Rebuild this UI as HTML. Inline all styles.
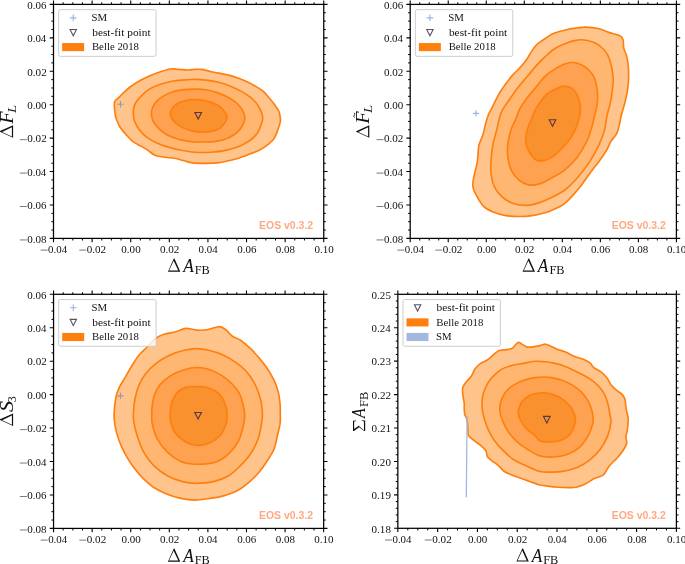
<!DOCTYPE html><html><head><meta charset="utf-8"><style>html,body{margin:0;padding:0;background:#fff;overflow:hidden;}svg{display:block;will-change:transform;}text{font-family:"Liberation Serif",serif;}</style></head><body>
<svg width="685" height="564" viewBox="0 0 685 564">
<rect width="685" height="564" fill="#fff"/>
<path d="M170.20,69.00 C173.20,68.60 175.50,69.23 178.50,69.40 C181.50,69.57 185.45,70.00 188.20,70.00 C190.95,70.00 192.72,69.50 195.00,69.40 C197.28,69.30 199.13,69.00 201.90,69.40 C204.67,69.80 208.13,71.05 211.60,71.80 C215.07,72.55 219.00,73.10 222.70,73.90 C226.40,74.70 230.10,75.45 233.80,76.60 C237.50,77.75 241.43,79.28 244.90,80.80 C248.37,82.32 251.58,83.97 254.60,85.70 C257.62,87.43 260.45,89.02 263.00,91.20 C265.55,93.38 267.83,96.37 269.90,98.80 C271.97,101.23 273.90,103.72 275.40,105.80 C276.90,107.88 278.08,109.27 278.90,111.30 C279.72,113.33 280.07,116.23 280.30,118.00 C280.53,119.77 280.65,120.08 280.30,121.90 C279.95,123.72 279.23,126.12 278.20,128.90 C277.17,131.68 275.72,136.07 274.10,138.60 C272.48,141.13 270.82,142.25 268.50,144.10 C266.18,145.95 263.20,148.08 260.20,149.70 C257.20,151.32 253.97,152.42 250.50,153.80 C247.03,155.18 243.10,156.83 239.40,158.00 C235.70,159.17 232.00,159.98 228.30,160.80 C224.60,161.62 220.90,162.48 217.20,162.90 C213.50,163.32 210.23,163.30 206.10,163.30 C201.97,163.30 196.07,163.32 192.40,162.90 C188.73,162.48 187.12,161.57 184.10,160.80 C181.08,160.03 177.55,158.88 174.30,158.30 C171.05,157.72 167.83,157.82 164.60,157.30 C161.37,156.78 157.67,156.35 154.90,155.20 C152.13,154.05 150.30,151.90 148.00,150.40 C145.70,148.90 143.65,147.70 141.10,146.20 C138.55,144.70 135.25,143.37 132.70,141.40 C130.15,139.43 127.87,136.72 125.80,134.40 C123.73,132.08 121.80,129.82 120.30,127.50 C118.80,125.18 117.62,122.50 116.80,120.50 C115.98,118.50 115.80,117.72 115.40,115.50 C115.00,113.28 114.52,109.52 114.40,107.20 C114.28,104.88 113.95,103.23 114.70,101.60 C115.45,99.97 117.28,99.02 118.90,97.40 C120.52,95.78 122.55,93.63 124.40,91.90 C126.25,90.17 127.45,88.85 130.00,87.00 C132.55,85.15 136.47,82.63 139.70,80.80 C142.93,78.97 145.93,77.50 149.40,76.00 C152.87,74.50 157.03,72.97 160.50,71.80 C163.97,70.63 167.20,69.40 170.20,69.00Z" fill="#ffc48c"/>
<path d="M174.30,80.80 C178.92,80.03 184.75,79.93 188.20,79.70 C191.65,79.47 192.02,79.33 195.00,79.40 C197.98,79.47 202.17,79.63 206.10,80.10 C210.03,80.57 214.43,81.15 218.60,82.20 C222.77,83.25 227.17,84.78 231.10,86.40 C235.03,88.02 238.97,90.07 242.20,91.90 C245.43,93.73 247.97,95.32 250.50,97.40 C253.03,99.48 255.55,101.85 257.40,104.40 C259.25,106.95 260.72,110.43 261.60,112.70 C262.48,114.97 262.70,116.23 262.70,118.00 C262.70,119.77 262.48,120.80 261.60,123.30 C260.72,125.80 259.25,130.22 257.40,133.00 C255.55,135.78 253.50,137.80 250.50,140.00 C247.50,142.20 243.57,144.47 239.40,146.20 C235.23,147.93 230.13,149.40 225.50,150.40 C220.87,151.40 216.68,151.90 211.60,152.20 C206.52,152.50 200.28,152.57 195.00,152.20 C189.72,151.83 184.50,150.88 179.90,150.00 C175.30,149.12 171.33,148.12 167.40,146.90 C163.47,145.68 159.77,144.32 156.30,142.70 C152.83,141.08 149.37,139.27 146.60,137.20 C143.83,135.13 141.67,132.85 139.70,130.30 C137.73,127.75 135.85,124.45 134.80,121.90 C133.75,119.35 133.63,117.00 133.40,115.00 C133.17,113.00 133.05,111.90 133.40,109.90 C133.75,107.90 134.22,105.30 135.50,103.00 C136.78,100.70 138.78,98.42 141.10,96.10 C143.42,93.78 146.17,91.07 149.40,89.10 C152.63,87.13 156.35,85.68 160.50,84.30 C164.65,82.92 169.68,81.57 174.30,80.80Z" fill="#ffb670"/>
<path d="M174.30,91.20 C178.45,90.08 184.75,89.75 188.20,89.40 C191.65,89.05 192.02,89.03 195.00,89.10 C197.98,89.17 202.40,89.22 206.10,89.80 C209.80,90.38 213.50,91.33 217.20,92.60 C220.90,93.87 225.07,95.67 228.30,97.40 C231.53,99.13 234.28,100.92 236.60,103.00 C238.92,105.08 240.83,107.57 242.20,109.90 C243.57,112.23 244.58,114.77 244.80,117.00 C245.02,119.23 244.63,120.87 243.50,123.30 C242.37,125.73 240.53,129.17 238.00,131.60 C235.47,134.03 232.00,136.27 228.30,137.90 C224.60,139.53 219.97,140.72 215.80,141.40 C211.63,142.08 206.77,141.90 203.30,142.00 C199.83,142.10 197.28,142.10 195.00,142.00 C192.72,141.90 192.35,141.85 189.60,141.40 C186.85,140.95 182.20,140.35 178.50,139.30 C174.80,138.25 170.63,136.83 167.40,135.10 C164.17,133.37 161.42,131.10 159.10,128.90 C156.78,126.70 154.77,124.13 153.50,121.90 C152.23,119.67 151.72,117.73 151.50,115.50 C151.28,113.27 151.40,110.82 152.20,108.50 C153.00,106.18 154.45,103.67 156.30,101.60 C158.15,99.53 160.30,97.83 163.30,96.10 C166.30,94.37 170.15,92.32 174.30,91.20Z" fill="#fea150"/>
<path d="M178.50,103.00 C181.03,101.78 185.45,100.48 188.20,99.90 C190.95,99.32 192.48,99.45 195.00,99.50 C197.52,99.55 200.30,99.62 203.30,100.20 C206.30,100.78 209.98,101.73 213.00,103.00 C216.02,104.27 219.32,106.07 221.40,107.80 C223.48,109.53 224.57,111.87 225.50,113.40 C226.43,114.93 227.00,115.58 227.00,117.00 C227.00,118.42 226.67,120.03 225.50,121.90 C224.33,123.77 222.32,126.62 220.00,128.20 C217.68,129.78 214.38,130.75 211.60,131.40 C208.82,132.05 206.07,132.07 203.30,132.10 C200.53,132.13 197.28,131.90 195.00,131.60 C192.72,131.30 192.12,131.22 189.60,130.30 C187.08,129.38 182.67,127.73 179.90,126.10 C177.13,124.47 174.62,122.52 173.00,120.50 C171.38,118.48 170.20,116.22 170.20,114.00 C170.20,111.78 171.62,109.03 173.00,107.20 C174.38,105.37 175.97,104.22 178.50,103.00Z" fill="#f9912e"/>
<path d="M170.20,69.00 C173.20,68.60 175.50,69.23 178.50,69.40 C181.50,69.57 185.45,70.00 188.20,70.00 C190.95,70.00 192.72,69.50 195.00,69.40 C197.28,69.30 199.13,69.00 201.90,69.40 C204.67,69.80 208.13,71.05 211.60,71.80 C215.07,72.55 219.00,73.10 222.70,73.90 C226.40,74.70 230.10,75.45 233.80,76.60 C237.50,77.75 241.43,79.28 244.90,80.80 C248.37,82.32 251.58,83.97 254.60,85.70 C257.62,87.43 260.45,89.02 263.00,91.20 C265.55,93.38 267.83,96.37 269.90,98.80 C271.97,101.23 273.90,103.72 275.40,105.80 C276.90,107.88 278.08,109.27 278.90,111.30 C279.72,113.33 280.07,116.23 280.30,118.00 C280.53,119.77 280.65,120.08 280.30,121.90 C279.95,123.72 279.23,126.12 278.20,128.90 C277.17,131.68 275.72,136.07 274.10,138.60 C272.48,141.13 270.82,142.25 268.50,144.10 C266.18,145.95 263.20,148.08 260.20,149.70 C257.20,151.32 253.97,152.42 250.50,153.80 C247.03,155.18 243.10,156.83 239.40,158.00 C235.70,159.17 232.00,159.98 228.30,160.80 C224.60,161.62 220.90,162.48 217.20,162.90 C213.50,163.32 210.23,163.30 206.10,163.30 C201.97,163.30 196.07,163.32 192.40,162.90 C188.73,162.48 187.12,161.57 184.10,160.80 C181.08,160.03 177.55,158.88 174.30,158.30 C171.05,157.72 167.83,157.82 164.60,157.30 C161.37,156.78 157.67,156.35 154.90,155.20 C152.13,154.05 150.30,151.90 148.00,150.40 C145.70,148.90 143.65,147.70 141.10,146.20 C138.55,144.70 135.25,143.37 132.70,141.40 C130.15,139.43 127.87,136.72 125.80,134.40 C123.73,132.08 121.80,129.82 120.30,127.50 C118.80,125.18 117.62,122.50 116.80,120.50 C115.98,118.50 115.80,117.72 115.40,115.50 C115.00,113.28 114.52,109.52 114.40,107.20 C114.28,104.88 113.95,103.23 114.70,101.60 C115.45,99.97 117.28,99.02 118.90,97.40 C120.52,95.78 122.55,93.63 124.40,91.90 C126.25,90.17 127.45,88.85 130.00,87.00 C132.55,85.15 136.47,82.63 139.70,80.80 C142.93,78.97 145.93,77.50 149.40,76.00 C152.87,74.50 157.03,72.97 160.50,71.80 C163.97,70.63 167.20,69.40 170.20,69.00Z" fill="none" stroke="#ff7f0e" stroke-width="1.65" stroke-linejoin="round"/>
<path d="M174.30,80.80 C178.92,80.03 184.75,79.93 188.20,79.70 C191.65,79.47 192.02,79.33 195.00,79.40 C197.98,79.47 202.17,79.63 206.10,80.10 C210.03,80.57 214.43,81.15 218.60,82.20 C222.77,83.25 227.17,84.78 231.10,86.40 C235.03,88.02 238.97,90.07 242.20,91.90 C245.43,93.73 247.97,95.32 250.50,97.40 C253.03,99.48 255.55,101.85 257.40,104.40 C259.25,106.95 260.72,110.43 261.60,112.70 C262.48,114.97 262.70,116.23 262.70,118.00 C262.70,119.77 262.48,120.80 261.60,123.30 C260.72,125.80 259.25,130.22 257.40,133.00 C255.55,135.78 253.50,137.80 250.50,140.00 C247.50,142.20 243.57,144.47 239.40,146.20 C235.23,147.93 230.13,149.40 225.50,150.40 C220.87,151.40 216.68,151.90 211.60,152.20 C206.52,152.50 200.28,152.57 195.00,152.20 C189.72,151.83 184.50,150.88 179.90,150.00 C175.30,149.12 171.33,148.12 167.40,146.90 C163.47,145.68 159.77,144.32 156.30,142.70 C152.83,141.08 149.37,139.27 146.60,137.20 C143.83,135.13 141.67,132.85 139.70,130.30 C137.73,127.75 135.85,124.45 134.80,121.90 C133.75,119.35 133.63,117.00 133.40,115.00 C133.17,113.00 133.05,111.90 133.40,109.90 C133.75,107.90 134.22,105.30 135.50,103.00 C136.78,100.70 138.78,98.42 141.10,96.10 C143.42,93.78 146.17,91.07 149.40,89.10 C152.63,87.13 156.35,85.68 160.50,84.30 C164.65,82.92 169.68,81.57 174.30,80.80Z" fill="none" stroke="#ff7f0e" stroke-width="1.65" stroke-linejoin="round"/>
<path d="M174.30,91.20 C178.45,90.08 184.75,89.75 188.20,89.40 C191.65,89.05 192.02,89.03 195.00,89.10 C197.98,89.17 202.40,89.22 206.10,89.80 C209.80,90.38 213.50,91.33 217.20,92.60 C220.90,93.87 225.07,95.67 228.30,97.40 C231.53,99.13 234.28,100.92 236.60,103.00 C238.92,105.08 240.83,107.57 242.20,109.90 C243.57,112.23 244.58,114.77 244.80,117.00 C245.02,119.23 244.63,120.87 243.50,123.30 C242.37,125.73 240.53,129.17 238.00,131.60 C235.47,134.03 232.00,136.27 228.30,137.90 C224.60,139.53 219.97,140.72 215.80,141.40 C211.63,142.08 206.77,141.90 203.30,142.00 C199.83,142.10 197.28,142.10 195.00,142.00 C192.72,141.90 192.35,141.85 189.60,141.40 C186.85,140.95 182.20,140.35 178.50,139.30 C174.80,138.25 170.63,136.83 167.40,135.10 C164.17,133.37 161.42,131.10 159.10,128.90 C156.78,126.70 154.77,124.13 153.50,121.90 C152.23,119.67 151.72,117.73 151.50,115.50 C151.28,113.27 151.40,110.82 152.20,108.50 C153.00,106.18 154.45,103.67 156.30,101.60 C158.15,99.53 160.30,97.83 163.30,96.10 C166.30,94.37 170.15,92.32 174.30,91.20Z" fill="none" stroke="#ff7f0e" stroke-width="1.65" stroke-linejoin="round"/>
<path d="M178.50,103.00 C181.03,101.78 185.45,100.48 188.20,99.90 C190.95,99.32 192.48,99.45 195.00,99.50 C197.52,99.55 200.30,99.62 203.30,100.20 C206.30,100.78 209.98,101.73 213.00,103.00 C216.02,104.27 219.32,106.07 221.40,107.80 C223.48,109.53 224.57,111.87 225.50,113.40 C226.43,114.93 227.00,115.58 227.00,117.00 C227.00,118.42 226.67,120.03 225.50,121.90 C224.33,123.77 222.32,126.62 220.00,128.20 C217.68,129.78 214.38,130.75 211.60,131.40 C208.82,132.05 206.07,132.07 203.30,132.10 C200.53,132.13 197.28,131.90 195.00,131.60 C192.72,131.30 192.12,131.22 189.60,130.30 C187.08,129.38 182.67,127.73 179.90,126.10 C177.13,124.47 174.62,122.52 173.00,120.50 C171.38,118.48 170.20,116.22 170.20,114.00 C170.20,111.78 171.62,109.03 173.00,107.20 C174.38,105.37 175.97,104.22 178.50,103.00Z" fill="none" stroke="#ff7f0e" stroke-width="1.65" stroke-linejoin="round"/>
<path d="M117.40,104.20h6.2M120.50,101.00v6.4" stroke="#4a72c4" stroke-opacity="0.55" stroke-width="1.15"/>
<path d="M194.90,112.46H201.50L198.20,118.96Z" fill="none" stroke="#2e2444" stroke-opacity="0.80" stroke-width="1.15" stroke-linejoin="miter"/>
<text x="259.07" y="228.80" font-size="10.70" textLength="54.00" lengthAdjust="spacingAndGlyphs" fill="#ffa984" font-weight="bold" style="font-family:'Liberation Sans',sans-serif">EOS v0.3.2</text>
<rect x="58.65" y="9.65" width="97.40" height="46.70" rx="1.7" fill="#fff" fill-opacity="0.8" stroke="#c8c8c8" stroke-opacity="0.9" stroke-width="1"/>
<path d="M69.95,17.85h6.6M73.25,14.55v6.6" stroke="#4a72c4" stroke-opacity="0.55" stroke-width="1.1"/>
<text x="91.55" y="21.15" font-size="10.80" textLength="15.63" lengthAdjust="spacingAndGlyphs" fill="#111">SM</text>
<path d="M70.05,29.45H76.45L73.25,35.75Z" fill="none" stroke="#2e2444" stroke-opacity="0.80" stroke-width="1.1"/>
<text x="92.25" y="35.75" font-size="10.80" textLength="58.29" lengthAdjust="spacingAndGlyphs" fill="#111">best-fit point</text>
<rect x="62.15" y="43.05" width="22.0" height="8.1" fill="#ff7f0e"/>
<text x="91.93" y="50.35" font-size="10.80" textLength="47.06" lengthAdjust="spacingAndGlyphs" fill="#111">Belle 2018</text>
<rect x="53.50" y="4.40" width="270.25" height="234.00" fill="none" stroke="#000" stroke-width="1.25"/>
<path d="M53.50,238.40v3.80M53.50,4.40v-3.80" stroke="#000" stroke-width="1.1"/><path d="M63.15,238.40v2.10M63.15,4.40v-2.10" stroke="#000" stroke-width="1.0"/><path d="M72.80,238.40v2.10M72.80,4.40v-2.10" stroke="#000" stroke-width="1.0"/><path d="M82.46,238.40v2.10M82.46,4.40v-2.10" stroke="#000" stroke-width="1.0"/><path d="M92.11,238.40v3.80M92.11,4.40v-3.80" stroke="#000" stroke-width="1.1"/><path d="M101.76,238.40v2.10M101.76,4.40v-2.10" stroke="#000" stroke-width="1.0"/><path d="M111.41,238.40v2.10M111.41,4.40v-2.10" stroke="#000" stroke-width="1.0"/><path d="M121.06,238.40v2.10M121.06,4.40v-2.10" stroke="#000" stroke-width="1.0"/><path d="M130.71,238.40v3.80M130.71,4.40v-3.80" stroke="#000" stroke-width="1.1"/><path d="M140.37,238.40v2.10M140.37,4.40v-2.10" stroke="#000" stroke-width="1.0"/><path d="M150.02,238.40v2.10M150.02,4.40v-2.10" stroke="#000" stroke-width="1.0"/><path d="M159.67,238.40v2.10M159.67,4.40v-2.10" stroke="#000" stroke-width="1.0"/><path d="M169.32,238.40v3.80M169.32,4.40v-3.80" stroke="#000" stroke-width="1.1"/><path d="M178.97,238.40v2.10M178.97,4.40v-2.10" stroke="#000" stroke-width="1.0"/><path d="M188.62,238.40v2.10M188.62,4.40v-2.10" stroke="#000" stroke-width="1.0"/><path d="M198.28,238.40v2.10M198.28,4.40v-2.10" stroke="#000" stroke-width="1.0"/><path d="M207.93,238.40v3.80M207.93,4.40v-3.80" stroke="#000" stroke-width="1.1"/><path d="M217.58,238.40v2.10M217.58,4.40v-2.10" stroke="#000" stroke-width="1.0"/><path d="M227.23,238.40v2.10M227.23,4.40v-2.10" stroke="#000" stroke-width="1.0"/><path d="M236.88,238.40v2.10M236.88,4.40v-2.10" stroke="#000" stroke-width="1.0"/><path d="M246.54,238.40v3.80M246.54,4.40v-3.80" stroke="#000" stroke-width="1.1"/><path d="M256.19,238.40v2.10M256.19,4.40v-2.10" stroke="#000" stroke-width="1.0"/><path d="M265.84,238.40v2.10M265.84,4.40v-2.10" stroke="#000" stroke-width="1.0"/><path d="M275.49,238.40v2.10M275.49,4.40v-2.10" stroke="#000" stroke-width="1.0"/><path d="M285.14,238.40v3.80M285.14,4.40v-3.80" stroke="#000" stroke-width="1.1"/><path d="M294.79,238.40v2.10M294.79,4.40v-2.10" stroke="#000" stroke-width="1.0"/><path d="M304.45,238.40v2.10M304.45,4.40v-2.10" stroke="#000" stroke-width="1.0"/><path d="M314.10,238.40v2.10M314.10,4.40v-2.10" stroke="#000" stroke-width="1.0"/><path d="M323.75,238.40v3.80M323.75,4.40v-3.80" stroke="#000" stroke-width="1.1"/><path d="M53.50,238.40h-3.80M323.75,238.40h3.80" stroke="#000" stroke-width="1.1"/><path d="M53.50,230.04h-2.10M323.75,230.04h2.10" stroke="#000" stroke-width="1.0"/><path d="M53.50,221.69h-2.10M323.75,221.69h2.10" stroke="#000" stroke-width="1.0"/><path d="M53.50,213.33h-2.10M323.75,213.33h2.10" stroke="#000" stroke-width="1.0"/><path d="M53.50,204.97h-3.80M323.75,204.97h3.80" stroke="#000" stroke-width="1.1"/><path d="M53.50,196.61h-2.10M323.75,196.61h2.10" stroke="#000" stroke-width="1.0"/><path d="M53.50,188.26h-2.10M323.75,188.26h2.10" stroke="#000" stroke-width="1.0"/><path d="M53.50,179.90h-2.10M323.75,179.90h2.10" stroke="#000" stroke-width="1.0"/><path d="M53.50,171.54h-3.80M323.75,171.54h3.80" stroke="#000" stroke-width="1.1"/><path d="M53.50,163.19h-2.10M323.75,163.19h2.10" stroke="#000" stroke-width="1.0"/><path d="M53.50,154.83h-2.10M323.75,154.83h2.10" stroke="#000" stroke-width="1.0"/><path d="M53.50,146.47h-2.10M323.75,146.47h2.10" stroke="#000" stroke-width="1.0"/><path d="M53.50,138.11h-3.80M323.75,138.11h3.80" stroke="#000" stroke-width="1.1"/><path d="M53.50,129.76h-2.10M323.75,129.76h2.10" stroke="#000" stroke-width="1.0"/><path d="M53.50,121.40h-2.10M323.75,121.40h2.10" stroke="#000" stroke-width="1.0"/><path d="M53.50,113.04h-2.10M323.75,113.04h2.10" stroke="#000" stroke-width="1.0"/><path d="M53.50,104.69h-3.80M323.75,104.69h3.80" stroke="#000" stroke-width="1.1"/><path d="M53.50,96.33h-2.10M323.75,96.33h2.10" stroke="#000" stroke-width="1.0"/><path d="M53.50,87.97h-2.10M323.75,87.97h2.10" stroke="#000" stroke-width="1.0"/><path d="M53.50,79.61h-2.10M323.75,79.61h2.10" stroke="#000" stroke-width="1.0"/><path d="M53.50,71.26h-3.80M323.75,71.26h3.80" stroke="#000" stroke-width="1.1"/><path d="M53.50,62.90h-2.10M323.75,62.90h2.10" stroke="#000" stroke-width="1.0"/><path d="M53.50,54.54h-2.10M323.75,54.54h2.10" stroke="#000" stroke-width="1.0"/><path d="M53.50,46.19h-2.10M323.75,46.19h2.10" stroke="#000" stroke-width="1.0"/><path d="M53.50,37.83h-3.80M323.75,37.83h3.80" stroke="#000" stroke-width="1.1"/><path d="M53.50,29.47h-2.10M323.75,29.47h2.10" stroke="#000" stroke-width="1.0"/><path d="M53.50,21.11h-2.10M323.75,21.11h2.10" stroke="#000" stroke-width="1.0"/><path d="M53.50,12.76h-2.10M323.75,12.76h2.10" stroke="#000" stroke-width="1.0"/><path d="M53.50,4.40h-3.80M323.75,4.40h3.80" stroke="#000" stroke-width="1.1"/>
<path d="M40.65,250.10h7.00" stroke="#333" stroke-width="0.65"/><text x="48.12" y="252.85" font-size="11.40" textLength="19.00" lengthAdjust="spacingAndGlyphs" fill="#111">0.04</text>
<path d="M79.26,250.10h7.00" stroke="#333" stroke-width="0.65"/><text x="86.71" y="252.85" font-size="11.40" textLength="19.46" lengthAdjust="spacingAndGlyphs" fill="#111">0.02</text>
<text x="121.37" y="252.85" font-size="11.40" textLength="19.28" lengthAdjust="spacingAndGlyphs" fill="#111">0.00</text>
<text x="159.98" y="252.85" font-size="11.40" textLength="19.46" lengthAdjust="spacingAndGlyphs" fill="#111">0.02</text>
<text x="198.59" y="252.85" font-size="11.40" textLength="19.00" lengthAdjust="spacingAndGlyphs" fill="#111">0.04</text>
<text x="237.20" y="252.85" font-size="11.40" textLength="19.17" lengthAdjust="spacingAndGlyphs" fill="#111">0.06</text>
<text x="275.80" y="252.85" font-size="11.40" textLength="19.28" lengthAdjust="spacingAndGlyphs" fill="#111">0.08</text>
<text x="314.41" y="252.85" font-size="11.40" textLength="19.28" lengthAdjust="spacingAndGlyphs" fill="#111">0.10</text>
<path d="M19.80,239.95h7.00" stroke="#333" stroke-width="0.65"/><text x="27.26" y="242.70" font-size="11.40" textLength="19.28" lengthAdjust="spacingAndGlyphs" fill="#111">0.08</text>
<path d="M19.80,206.52h7.00" stroke="#333" stroke-width="0.65"/><text x="27.26" y="209.27" font-size="11.40" textLength="19.17" lengthAdjust="spacingAndGlyphs" fill="#111">0.06</text>
<path d="M19.80,173.09h7.00" stroke="#333" stroke-width="0.65"/><text x="27.27" y="175.84" font-size="11.40" textLength="19.00" lengthAdjust="spacingAndGlyphs" fill="#111">0.04</text>
<path d="M19.80,139.66h7.00" stroke="#333" stroke-width="0.65"/><text x="27.26" y="142.41" font-size="11.40" textLength="19.46" lengthAdjust="spacingAndGlyphs" fill="#111">0.02</text>
<text x="27.26" y="108.99" font-size="11.40" textLength="19.28" lengthAdjust="spacingAndGlyphs" fill="#111">0.00</text>
<text x="27.26" y="75.56" font-size="11.40" textLength="19.46" lengthAdjust="spacingAndGlyphs" fill="#111">0.02</text>
<text x="27.27" y="42.13" font-size="11.40" textLength="19.00" lengthAdjust="spacingAndGlyphs" fill="#111">0.04</text>
<text x="27.26" y="8.70" font-size="11.40" textLength="19.17" lengthAdjust="spacingAndGlyphs" fill="#111">0.06</text>
<g transform="translate(167.93,271.70)"><path d="M5.90,-13.20L6.50,-13.30L12.40,0.00L0.00,0.00Z M5.76,-11.05L1.17,-1.20L10.35,-1.20Z" fill="#111" fill-rule="evenodd"/><text x="15.25" y="0.00" font-size="19.50" font-style="italic" textLength="10.58" lengthAdjust="spacingAndGlyphs" fill="#111">A</text><text x="26.83" y="2.20" font-size="11.90" textLength="15.06" lengthAdjust="spacingAndGlyphs" fill="#111">FB</text></g>
<g transform="translate(13.10,137.65) rotate(-90)"><path d="M5.90,-13.10L6.50,-13.20L12.40,0.00L0.00,0.00Z M5.76,-10.97L1.17,-1.20L10.34,-1.20Z" fill="#111" fill-rule="evenodd"/><text x="13.90" y="0.00" font-size="19.30" font-style="italic" textLength="12.31" lengthAdjust="spacingAndGlyphs" fill="#111">F</text><text x="24.65" y="2.90" font-size="12.40" font-style="italic" textLength="8.13" lengthAdjust="spacingAndGlyphs" fill="#111">L</text></g>
<path d="M553.90,33.30 C557.20,31.97 562.47,30.58 566.30,29.70 C570.13,28.82 573.65,28.43 576.90,28.00 C580.15,27.57 582.25,27.02 585.80,27.10 C589.35,27.18 594.37,27.62 598.20,28.50 C602.03,29.38 605.27,31.22 608.80,32.40 C612.33,33.58 617.03,34.42 619.40,35.60 C621.77,36.78 622.27,37.38 623.00,39.50 C623.73,41.62 623.22,45.65 623.80,48.30 C624.38,50.95 625.75,52.43 626.50,55.40 C627.25,58.37 627.95,62.25 628.30,66.10 C628.65,69.95 628.75,74.37 628.60,78.50 C628.45,82.63 628.05,86.77 627.40,90.90 C626.75,95.03 625.73,99.17 624.70,103.30 C623.67,107.43 622.07,112.20 621.20,115.70 C620.33,119.20 620.25,121.32 619.50,124.30 C618.75,127.28 618.10,130.80 616.70,133.60 C615.30,136.40 612.80,138.30 611.10,141.10 C609.40,143.90 608.52,146.98 606.50,150.40 C604.48,153.82 601.48,158.18 599.00,161.60 C596.52,165.02 594.38,167.18 591.60,170.90 C588.82,174.62 585.40,179.87 582.30,183.90 C579.20,187.93 576.12,191.68 573.00,195.10 C569.88,198.52 567.02,201.92 563.60,204.40 C560.18,206.88 555.58,208.60 552.50,210.00 C549.42,211.40 548.50,211.87 545.10,212.80 C541.70,213.73 536.45,214.98 532.10,215.60 C527.75,216.22 523.35,216.50 519.00,216.50 C514.65,216.50 510.33,216.37 506.00,215.60 C501.67,214.83 496.73,213.45 493.00,211.90 C489.27,210.35 486.40,209.10 483.60,206.30 C480.80,203.50 478.00,198.52 476.20,195.10 C474.40,191.68 473.12,189.22 472.80,185.80 C472.48,182.38 473.58,178.33 474.30,174.60 C475.02,170.87 476.48,166.82 477.10,163.40 C477.72,159.98 477.68,157.20 478.00,154.10 C478.32,151.00 478.22,147.90 479.00,144.80 C479.78,141.70 481.62,138.92 482.70,135.50 C483.78,132.08 484.57,127.72 485.50,124.30 C486.43,120.88 487.13,117.92 488.30,115.00 C489.47,112.08 490.77,110.23 492.50,106.80 C494.23,103.37 496.48,98.23 498.70,94.40 C500.92,90.57 503.45,87.05 505.80,83.80 C508.15,80.55 510.45,77.57 512.80,74.90 C515.15,72.23 517.53,70.45 519.90,67.80 C522.27,65.15 524.93,61.95 527.00,59.00 C529.07,56.05 530.53,52.62 532.30,50.10 C534.07,47.58 535.23,45.97 537.60,43.90 C539.97,41.83 543.78,39.47 546.50,37.70 C549.22,35.93 550.60,34.63 553.90,33.30Z" fill="#ffc48c"/>
<path d="M553.90,49.20 C557.20,46.98 561.27,45.28 564.50,43.90 C567.73,42.52 570.35,41.58 573.30,40.90 C576.25,40.22 578.95,39.60 582.20,39.80 C585.45,40.00 589.55,40.82 592.80,42.10 C596.05,43.38 599.18,45.28 601.70,47.50 C604.22,49.72 606.28,52.30 607.90,55.40 C609.52,58.50 610.52,62.25 611.40,66.10 C612.28,69.95 613.05,74.37 613.20,78.50 C613.35,82.63 612.80,86.77 612.30,90.90 C611.80,95.03 611.08,99.17 610.20,103.30 C609.32,107.43 607.93,111.27 607.00,115.70 C606.07,120.13 605.93,125.05 604.60,129.90 C603.27,134.75 601.48,139.52 599.00,144.80 C596.52,150.08 593.12,156.32 589.70,161.60 C586.28,166.88 582.53,171.85 578.50,176.50 C574.47,181.15 569.83,186.08 565.50,189.50 C561.17,192.92 556.83,194.82 552.50,197.00 C548.17,199.18 543.83,201.20 539.50,202.60 C535.17,204.00 530.85,205.25 526.50,205.40 C522.15,205.55 517.43,204.90 513.40,203.50 C509.37,202.10 505.40,199.63 502.30,197.00 C499.20,194.37 496.67,191.43 494.80,187.70 C492.93,183.97 491.72,179.27 491.10,174.60 C490.48,169.93 490.80,164.67 491.10,159.70 C491.40,154.73 491.97,149.77 492.90,144.80 C493.83,139.83 495.60,134.37 496.70,129.90 C497.80,125.43 498.58,121.25 499.50,118.00 C500.42,114.75 500.57,113.45 502.20,110.40 C503.83,107.35 506.63,103.55 509.30,99.70 C511.97,95.85 515.25,91.13 518.20,87.30 C521.15,83.47 524.05,80.23 527.00,76.70 C529.95,73.17 532.95,69.35 535.90,66.10 C538.85,62.85 541.70,60.02 544.70,57.20 C547.70,54.38 550.60,51.42 553.90,49.20Z" fill="#ffb670"/>
<path d="M553.90,69.60 C557.20,67.47 561.27,65.08 564.50,63.90 C567.73,62.72 570.35,62.28 573.30,62.50 C576.25,62.72 579.53,63.87 582.20,65.20 C584.87,66.53 587.23,68.28 589.30,70.50 C591.37,72.72 593.27,75.10 594.60,78.50 C595.93,81.90 596.85,86.77 597.30,90.90 C597.75,95.03 597.75,99.17 597.30,103.30 C596.85,107.43 595.55,111.58 594.60,115.70 C593.65,119.82 593.03,123.45 591.60,128.00 C590.17,132.55 588.48,138.02 586.00,143.00 C583.52,147.98 580.43,153.25 576.70,157.90 C572.97,162.55 567.95,167.48 563.60,170.90 C559.25,174.32 554.62,176.23 550.60,178.40 C546.58,180.57 543.20,182.82 539.50,183.90 C535.80,184.98 531.82,185.52 528.40,184.90 C524.98,184.28 521.80,182.53 519.00,180.20 C516.20,177.87 513.45,174.62 511.60,170.90 C509.75,167.18 508.52,162.55 507.90,157.90 C507.28,153.25 507.28,147.98 507.90,143.00 C508.52,138.02 510.33,131.85 511.60,128.00 C512.87,124.15 514.12,123.13 515.50,119.90 C516.88,116.67 517.98,112.25 519.90,108.60 C521.82,104.95 524.33,101.55 527.00,98.00 C529.67,94.45 532.95,90.85 535.90,87.30 C538.85,83.75 541.70,79.65 544.70,76.70 C547.70,73.75 550.60,71.73 553.90,69.60Z" fill="#fea150"/>
<path d="M553.90,90.00 C556.60,88.67 560.05,86.85 562.70,86.40 C565.35,85.95 567.58,86.27 569.80,87.30 C572.02,88.33 574.38,90.23 576.00,92.60 C577.62,94.97 578.77,98.25 579.50,101.50 C580.23,104.75 580.57,109.02 580.40,112.10 C580.23,115.18 579.12,117.65 578.50,120.00 C577.88,122.35 577.93,123.30 576.70,126.20 C575.47,129.10 573.58,133.68 571.10,137.40 C568.62,141.12 564.90,145.25 561.80,148.50 C558.70,151.75 555.58,154.88 552.50,156.90 C549.42,158.92 546.08,160.13 543.30,160.60 C540.52,161.07 538.28,161.40 535.80,159.70 C533.32,158.00 530.10,153.82 528.40,150.40 C526.70,146.98 525.60,143.23 525.60,139.20 C525.60,135.17 527.43,129.42 528.40,126.20 C529.37,122.98 530.45,122.25 531.40,119.90 C532.35,117.55 532.77,114.87 534.10,112.10 C535.43,109.33 537.33,106.25 539.40,103.30 C541.47,100.35 544.08,96.62 546.50,94.40 C548.92,92.18 551.20,91.33 553.90,90.00Z" fill="#f9912e"/>
<path d="M553.90,33.30 C557.20,31.97 562.47,30.58 566.30,29.70 C570.13,28.82 573.65,28.43 576.90,28.00 C580.15,27.57 582.25,27.02 585.80,27.10 C589.35,27.18 594.37,27.62 598.20,28.50 C602.03,29.38 605.27,31.22 608.80,32.40 C612.33,33.58 617.03,34.42 619.40,35.60 C621.77,36.78 622.27,37.38 623.00,39.50 C623.73,41.62 623.22,45.65 623.80,48.30 C624.38,50.95 625.75,52.43 626.50,55.40 C627.25,58.37 627.95,62.25 628.30,66.10 C628.65,69.95 628.75,74.37 628.60,78.50 C628.45,82.63 628.05,86.77 627.40,90.90 C626.75,95.03 625.73,99.17 624.70,103.30 C623.67,107.43 622.07,112.20 621.20,115.70 C620.33,119.20 620.25,121.32 619.50,124.30 C618.75,127.28 618.10,130.80 616.70,133.60 C615.30,136.40 612.80,138.30 611.10,141.10 C609.40,143.90 608.52,146.98 606.50,150.40 C604.48,153.82 601.48,158.18 599.00,161.60 C596.52,165.02 594.38,167.18 591.60,170.90 C588.82,174.62 585.40,179.87 582.30,183.90 C579.20,187.93 576.12,191.68 573.00,195.10 C569.88,198.52 567.02,201.92 563.60,204.40 C560.18,206.88 555.58,208.60 552.50,210.00 C549.42,211.40 548.50,211.87 545.10,212.80 C541.70,213.73 536.45,214.98 532.10,215.60 C527.75,216.22 523.35,216.50 519.00,216.50 C514.65,216.50 510.33,216.37 506.00,215.60 C501.67,214.83 496.73,213.45 493.00,211.90 C489.27,210.35 486.40,209.10 483.60,206.30 C480.80,203.50 478.00,198.52 476.20,195.10 C474.40,191.68 473.12,189.22 472.80,185.80 C472.48,182.38 473.58,178.33 474.30,174.60 C475.02,170.87 476.48,166.82 477.10,163.40 C477.72,159.98 477.68,157.20 478.00,154.10 C478.32,151.00 478.22,147.90 479.00,144.80 C479.78,141.70 481.62,138.92 482.70,135.50 C483.78,132.08 484.57,127.72 485.50,124.30 C486.43,120.88 487.13,117.92 488.30,115.00 C489.47,112.08 490.77,110.23 492.50,106.80 C494.23,103.37 496.48,98.23 498.70,94.40 C500.92,90.57 503.45,87.05 505.80,83.80 C508.15,80.55 510.45,77.57 512.80,74.90 C515.15,72.23 517.53,70.45 519.90,67.80 C522.27,65.15 524.93,61.95 527.00,59.00 C529.07,56.05 530.53,52.62 532.30,50.10 C534.07,47.58 535.23,45.97 537.60,43.90 C539.97,41.83 543.78,39.47 546.50,37.70 C549.22,35.93 550.60,34.63 553.90,33.30Z" fill="none" stroke="#ff7f0e" stroke-width="1.65" stroke-linejoin="round"/>
<path d="M553.90,49.20 C557.20,46.98 561.27,45.28 564.50,43.90 C567.73,42.52 570.35,41.58 573.30,40.90 C576.25,40.22 578.95,39.60 582.20,39.80 C585.45,40.00 589.55,40.82 592.80,42.10 C596.05,43.38 599.18,45.28 601.70,47.50 C604.22,49.72 606.28,52.30 607.90,55.40 C609.52,58.50 610.52,62.25 611.40,66.10 C612.28,69.95 613.05,74.37 613.20,78.50 C613.35,82.63 612.80,86.77 612.30,90.90 C611.80,95.03 611.08,99.17 610.20,103.30 C609.32,107.43 607.93,111.27 607.00,115.70 C606.07,120.13 605.93,125.05 604.60,129.90 C603.27,134.75 601.48,139.52 599.00,144.80 C596.52,150.08 593.12,156.32 589.70,161.60 C586.28,166.88 582.53,171.85 578.50,176.50 C574.47,181.15 569.83,186.08 565.50,189.50 C561.17,192.92 556.83,194.82 552.50,197.00 C548.17,199.18 543.83,201.20 539.50,202.60 C535.17,204.00 530.85,205.25 526.50,205.40 C522.15,205.55 517.43,204.90 513.40,203.50 C509.37,202.10 505.40,199.63 502.30,197.00 C499.20,194.37 496.67,191.43 494.80,187.70 C492.93,183.97 491.72,179.27 491.10,174.60 C490.48,169.93 490.80,164.67 491.10,159.70 C491.40,154.73 491.97,149.77 492.90,144.80 C493.83,139.83 495.60,134.37 496.70,129.90 C497.80,125.43 498.58,121.25 499.50,118.00 C500.42,114.75 500.57,113.45 502.20,110.40 C503.83,107.35 506.63,103.55 509.30,99.70 C511.97,95.85 515.25,91.13 518.20,87.30 C521.15,83.47 524.05,80.23 527.00,76.70 C529.95,73.17 532.95,69.35 535.90,66.10 C538.85,62.85 541.70,60.02 544.70,57.20 C547.70,54.38 550.60,51.42 553.90,49.20Z" fill="none" stroke="#ff7f0e" stroke-width="1.65" stroke-linejoin="round"/>
<path d="M553.90,69.60 C557.20,67.47 561.27,65.08 564.50,63.90 C567.73,62.72 570.35,62.28 573.30,62.50 C576.25,62.72 579.53,63.87 582.20,65.20 C584.87,66.53 587.23,68.28 589.30,70.50 C591.37,72.72 593.27,75.10 594.60,78.50 C595.93,81.90 596.85,86.77 597.30,90.90 C597.75,95.03 597.75,99.17 597.30,103.30 C596.85,107.43 595.55,111.58 594.60,115.70 C593.65,119.82 593.03,123.45 591.60,128.00 C590.17,132.55 588.48,138.02 586.00,143.00 C583.52,147.98 580.43,153.25 576.70,157.90 C572.97,162.55 567.95,167.48 563.60,170.90 C559.25,174.32 554.62,176.23 550.60,178.40 C546.58,180.57 543.20,182.82 539.50,183.90 C535.80,184.98 531.82,185.52 528.40,184.90 C524.98,184.28 521.80,182.53 519.00,180.20 C516.20,177.87 513.45,174.62 511.60,170.90 C509.75,167.18 508.52,162.55 507.90,157.90 C507.28,153.25 507.28,147.98 507.90,143.00 C508.52,138.02 510.33,131.85 511.60,128.00 C512.87,124.15 514.12,123.13 515.50,119.90 C516.88,116.67 517.98,112.25 519.90,108.60 C521.82,104.95 524.33,101.55 527.00,98.00 C529.67,94.45 532.95,90.85 535.90,87.30 C538.85,83.75 541.70,79.65 544.70,76.70 C547.70,73.75 550.60,71.73 553.90,69.60Z" fill="none" stroke="#ff7f0e" stroke-width="1.65" stroke-linejoin="round"/>
<path d="M553.90,90.00 C556.60,88.67 560.05,86.85 562.70,86.40 C565.35,85.95 567.58,86.27 569.80,87.30 C572.02,88.33 574.38,90.23 576.00,92.60 C577.62,94.97 578.77,98.25 579.50,101.50 C580.23,104.75 580.57,109.02 580.40,112.10 C580.23,115.18 579.12,117.65 578.50,120.00 C577.88,122.35 577.93,123.30 576.70,126.20 C575.47,129.10 573.58,133.68 571.10,137.40 C568.62,141.12 564.90,145.25 561.80,148.50 C558.70,151.75 555.58,154.88 552.50,156.90 C549.42,158.92 546.08,160.13 543.30,160.60 C540.52,161.07 538.28,161.40 535.80,159.70 C533.32,158.00 530.10,153.82 528.40,150.40 C526.70,146.98 525.60,143.23 525.60,139.20 C525.60,135.17 527.43,129.42 528.40,126.20 C529.37,122.98 530.45,122.25 531.40,119.90 C532.35,117.55 532.77,114.87 534.10,112.10 C535.43,109.33 537.33,106.25 539.40,103.30 C541.47,100.35 544.08,96.62 546.50,94.40 C548.92,92.18 551.20,91.33 553.90,90.00Z" fill="none" stroke="#ff7f0e" stroke-width="1.65" stroke-linejoin="round"/>
<path d="M472.90,113.40h6.2M476.00,110.20v6.4" stroke="#4a72c4" stroke-opacity="0.55" stroke-width="1.15"/>
<path d="M549.20,119.70H555.80L552.50,126.20Z" fill="none" stroke="#2e2444" stroke-opacity="0.80" stroke-width="1.15" stroke-linejoin="miter"/>
<text x="611.72" y="228.80" font-size="10.70" textLength="54.00" lengthAdjust="spacingAndGlyphs" fill="#ffa984" font-weight="bold" style="font-family:'Liberation Sans',sans-serif">EOS v0.3.2</text>
<rect x="415.35" y="9.65" width="97.40" height="46.70" rx="1.7" fill="#fff" fill-opacity="0.8" stroke="#c8c8c8" stroke-opacity="0.9" stroke-width="1"/>
<path d="M426.65,17.85h6.6M429.95,14.55v6.6" stroke="#4a72c4" stroke-opacity="0.55" stroke-width="1.1"/>
<text x="448.25" y="21.15" font-size="10.80" textLength="15.63" lengthAdjust="spacingAndGlyphs" fill="#111">SM</text>
<path d="M426.75,29.45H433.15L429.95,35.75Z" fill="none" stroke="#2e2444" stroke-opacity="0.80" stroke-width="1.1"/>
<text x="448.95" y="35.75" font-size="10.80" textLength="58.29" lengthAdjust="spacingAndGlyphs" fill="#111">best-fit point</text>
<rect x="418.85" y="43.05" width="22.0" height="8.1" fill="#ff7f0e"/>
<text x="448.63" y="50.35" font-size="10.80" textLength="47.06" lengthAdjust="spacingAndGlyphs" fill="#111">Belle 2018</text>
<rect x="410.20" y="4.40" width="266.20" height="234.00" fill="none" stroke="#000" stroke-width="1.25"/>
<path d="M410.20,238.40v3.80M410.20,4.40v-3.80" stroke="#000" stroke-width="1.1"/><path d="M419.71,238.40v2.10M419.71,4.40v-2.10" stroke="#000" stroke-width="1.0"/><path d="M429.21,238.40v2.10M429.21,4.40v-2.10" stroke="#000" stroke-width="1.0"/><path d="M438.72,238.40v2.10M438.72,4.40v-2.10" stroke="#000" stroke-width="1.0"/><path d="M448.23,238.40v3.80M448.23,4.40v-3.80" stroke="#000" stroke-width="1.1"/><path d="M457.74,238.40v2.10M457.74,4.40v-2.10" stroke="#000" stroke-width="1.0"/><path d="M467.24,238.40v2.10M467.24,4.40v-2.10" stroke="#000" stroke-width="1.0"/><path d="M476.75,238.40v2.10M476.75,4.40v-2.10" stroke="#000" stroke-width="1.0"/><path d="M486.26,238.40v3.80M486.26,4.40v-3.80" stroke="#000" stroke-width="1.1"/><path d="M495.76,238.40v2.10M495.76,4.40v-2.10" stroke="#000" stroke-width="1.0"/><path d="M505.27,238.40v2.10M505.27,4.40v-2.10" stroke="#000" stroke-width="1.0"/><path d="M514.78,238.40v2.10M514.78,4.40v-2.10" stroke="#000" stroke-width="1.0"/><path d="M524.29,238.40v3.80M524.29,4.40v-3.80" stroke="#000" stroke-width="1.1"/><path d="M533.79,238.40v2.10M533.79,4.40v-2.10" stroke="#000" stroke-width="1.0"/><path d="M543.30,238.40v2.10M543.30,4.40v-2.10" stroke="#000" stroke-width="1.0"/><path d="M552.81,238.40v2.10M552.81,4.40v-2.10" stroke="#000" stroke-width="1.0"/><path d="M562.31,238.40v3.80M562.31,4.40v-3.80" stroke="#000" stroke-width="1.1"/><path d="M571.82,238.40v2.10M571.82,4.40v-2.10" stroke="#000" stroke-width="1.0"/><path d="M581.33,238.40v2.10M581.33,4.40v-2.10" stroke="#000" stroke-width="1.0"/><path d="M590.84,238.40v2.10M590.84,4.40v-2.10" stroke="#000" stroke-width="1.0"/><path d="M600.34,238.40v3.80M600.34,4.40v-3.80" stroke="#000" stroke-width="1.1"/><path d="M609.85,238.40v2.10M609.85,4.40v-2.10" stroke="#000" stroke-width="1.0"/><path d="M619.36,238.40v2.10M619.36,4.40v-2.10" stroke="#000" stroke-width="1.0"/><path d="M628.86,238.40v2.10M628.86,4.40v-2.10" stroke="#000" stroke-width="1.0"/><path d="M638.37,238.40v3.80M638.37,4.40v-3.80" stroke="#000" stroke-width="1.1"/><path d="M647.88,238.40v2.10M647.88,4.40v-2.10" stroke="#000" stroke-width="1.0"/><path d="M657.39,238.40v2.10M657.39,4.40v-2.10" stroke="#000" stroke-width="1.0"/><path d="M666.89,238.40v2.10M666.89,4.40v-2.10" stroke="#000" stroke-width="1.0"/><path d="M676.40,238.40v3.80M676.40,4.40v-3.80" stroke="#000" stroke-width="1.1"/><path d="M410.20,238.40h-3.80M676.40,238.40h3.80" stroke="#000" stroke-width="1.1"/><path d="M410.20,230.04h-2.10M676.40,230.04h2.10" stroke="#000" stroke-width="1.0"/><path d="M410.20,221.69h-2.10M676.40,221.69h2.10" stroke="#000" stroke-width="1.0"/><path d="M410.20,213.33h-2.10M676.40,213.33h2.10" stroke="#000" stroke-width="1.0"/><path d="M410.20,204.97h-3.80M676.40,204.97h3.80" stroke="#000" stroke-width="1.1"/><path d="M410.20,196.61h-2.10M676.40,196.61h2.10" stroke="#000" stroke-width="1.0"/><path d="M410.20,188.26h-2.10M676.40,188.26h2.10" stroke="#000" stroke-width="1.0"/><path d="M410.20,179.90h-2.10M676.40,179.90h2.10" stroke="#000" stroke-width="1.0"/><path d="M410.20,171.54h-3.80M676.40,171.54h3.80" stroke="#000" stroke-width="1.1"/><path d="M410.20,163.19h-2.10M676.40,163.19h2.10" stroke="#000" stroke-width="1.0"/><path d="M410.20,154.83h-2.10M676.40,154.83h2.10" stroke="#000" stroke-width="1.0"/><path d="M410.20,146.47h-2.10M676.40,146.47h2.10" stroke="#000" stroke-width="1.0"/><path d="M410.20,138.11h-3.80M676.40,138.11h3.80" stroke="#000" stroke-width="1.1"/><path d="M410.20,129.76h-2.10M676.40,129.76h2.10" stroke="#000" stroke-width="1.0"/><path d="M410.20,121.40h-2.10M676.40,121.40h2.10" stroke="#000" stroke-width="1.0"/><path d="M410.20,113.04h-2.10M676.40,113.04h2.10" stroke="#000" stroke-width="1.0"/><path d="M410.20,104.69h-3.80M676.40,104.69h3.80" stroke="#000" stroke-width="1.1"/><path d="M410.20,96.33h-2.10M676.40,96.33h2.10" stroke="#000" stroke-width="1.0"/><path d="M410.20,87.97h-2.10M676.40,87.97h2.10" stroke="#000" stroke-width="1.0"/><path d="M410.20,79.61h-2.10M676.40,79.61h2.10" stroke="#000" stroke-width="1.0"/><path d="M410.20,71.26h-3.80M676.40,71.26h3.80" stroke="#000" stroke-width="1.1"/><path d="M410.20,62.90h-2.10M676.40,62.90h2.10" stroke="#000" stroke-width="1.0"/><path d="M410.20,54.54h-2.10M676.40,54.54h2.10" stroke="#000" stroke-width="1.0"/><path d="M410.20,46.19h-2.10M676.40,46.19h2.10" stroke="#000" stroke-width="1.0"/><path d="M410.20,37.83h-3.80M676.40,37.83h3.80" stroke="#000" stroke-width="1.1"/><path d="M410.20,29.47h-2.10M676.40,29.47h2.10" stroke="#000" stroke-width="1.0"/><path d="M410.20,21.11h-2.10M676.40,21.11h2.10" stroke="#000" stroke-width="1.0"/><path d="M410.20,12.76h-2.10M676.40,12.76h2.10" stroke="#000" stroke-width="1.0"/><path d="M410.20,4.40h-3.80M676.40,4.40h3.80" stroke="#000" stroke-width="1.1"/>
<path d="M397.35,250.10h7.00" stroke="#333" stroke-width="0.65"/><text x="404.82" y="252.85" font-size="11.40" textLength="19.00" lengthAdjust="spacingAndGlyphs" fill="#111">0.04</text>
<path d="M435.38,250.10h7.00" stroke="#333" stroke-width="0.65"/><text x="442.83" y="252.85" font-size="11.40" textLength="19.46" lengthAdjust="spacingAndGlyphs" fill="#111">0.02</text>
<text x="476.92" y="252.85" font-size="11.40" textLength="19.28" lengthAdjust="spacingAndGlyphs" fill="#111">0.00</text>
<text x="514.94" y="252.85" font-size="11.40" textLength="19.46" lengthAdjust="spacingAndGlyphs" fill="#111">0.02</text>
<text x="552.98" y="252.85" font-size="11.40" textLength="19.00" lengthAdjust="spacingAndGlyphs" fill="#111">0.04</text>
<text x="591.00" y="252.85" font-size="11.40" textLength="19.17" lengthAdjust="spacingAndGlyphs" fill="#111">0.06</text>
<text x="629.03" y="252.85" font-size="11.40" textLength="19.28" lengthAdjust="spacingAndGlyphs" fill="#111">0.08</text>
<text x="667.06" y="252.85" font-size="11.40" textLength="19.28" lengthAdjust="spacingAndGlyphs" fill="#111">0.10</text>
<path d="M376.50,239.95h7.00" stroke="#333" stroke-width="0.65"/><text x="383.96" y="242.70" font-size="11.40" textLength="19.28" lengthAdjust="spacingAndGlyphs" fill="#111">0.08</text>
<path d="M376.50,206.52h7.00" stroke="#333" stroke-width="0.65"/><text x="383.96" y="209.27" font-size="11.40" textLength="19.17" lengthAdjust="spacingAndGlyphs" fill="#111">0.06</text>
<path d="M376.50,173.09h7.00" stroke="#333" stroke-width="0.65"/><text x="383.97" y="175.84" font-size="11.40" textLength="19.00" lengthAdjust="spacingAndGlyphs" fill="#111">0.04</text>
<path d="M376.50,139.66h7.00" stroke="#333" stroke-width="0.65"/><text x="383.96" y="142.41" font-size="11.40" textLength="19.46" lengthAdjust="spacingAndGlyphs" fill="#111">0.02</text>
<text x="383.96" y="108.99" font-size="11.40" textLength="19.28" lengthAdjust="spacingAndGlyphs" fill="#111">0.00</text>
<text x="383.96" y="75.56" font-size="11.40" textLength="19.46" lengthAdjust="spacingAndGlyphs" fill="#111">0.02</text>
<text x="383.97" y="42.13" font-size="11.40" textLength="19.00" lengthAdjust="spacingAndGlyphs" fill="#111">0.04</text>
<text x="383.96" y="8.70" font-size="11.40" textLength="19.17" lengthAdjust="spacingAndGlyphs" fill="#111">0.06</text>
<g transform="translate(522.60,271.70)"><path d="M5.90,-13.20L6.50,-13.30L12.40,0.00L0.00,0.00Z M5.76,-11.05L1.17,-1.20L10.35,-1.20Z" fill="#111" fill-rule="evenodd"/><text x="15.25" y="0.00" font-size="19.50" font-style="italic" textLength="10.58" lengthAdjust="spacingAndGlyphs" fill="#111">A</text><text x="26.83" y="2.20" font-size="11.90" textLength="15.06" lengthAdjust="spacingAndGlyphs" fill="#111">FB</text></g>
<g transform="translate(369.30,137.65) rotate(-90)"><path d="M5.90,-13.10L6.50,-13.20L12.40,0.00L0.00,0.00Z M5.76,-10.97L1.17,-1.20L10.34,-1.20Z" fill="#111" fill-rule="evenodd"/><text x="13.90" y="0.00" font-size="19.30" font-style="italic" textLength="12.31" lengthAdjust="spacingAndGlyphs" fill="#111">F</text><text x="24.65" y="2.90" font-size="12.40" font-style="italic" textLength="8.13" lengthAdjust="spacingAndGlyphs" fill="#111">L</text><path d="M20.0,-14.6 c0.8,-1.1 1.6,-1.1 2.5,-0.4 c0.9,0.7 1.7,0.7 2.5,-0.4" fill="none" stroke="#111" stroke-width="0.9"/></g>
<path d="M164.00,334.30 C167.37,333.18 172.07,332.78 175.70,331.80 C179.33,330.82 182.25,328.68 185.80,328.40 C189.35,328.12 193.50,329.87 197.00,330.10 C200.50,330.33 203.20,330.37 206.80,329.80 C210.40,329.23 215.52,326.78 218.60,326.70 C221.68,326.62 223.05,327.75 225.30,329.30 C227.55,330.85 229.57,334.18 232.10,336.00 C234.63,337.82 237.42,338.10 240.50,340.20 C243.58,342.30 247.52,345.65 250.60,348.60 C253.68,351.55 256.20,354.53 259.00,357.90 C261.80,361.27 264.87,365.02 267.40,368.80 C269.93,372.58 272.37,376.67 274.20,380.60 C276.03,384.53 277.42,388.47 278.40,392.40 C279.38,396.33 279.78,400.43 280.10,404.20 C280.42,407.97 280.30,411.78 280.30,415.00 C280.30,418.22 280.57,420.12 280.10,423.50 C279.63,426.88 278.48,431.10 277.50,435.30 C276.52,439.50 275.88,444.50 274.20,448.70 C272.52,452.90 269.93,456.57 267.40,460.50 C264.87,464.43 262.08,468.65 259.00,472.30 C255.92,475.95 252.55,479.32 248.90,482.40 C245.25,485.48 241.32,488.55 237.10,490.80 C232.88,493.05 228.08,494.63 223.60,495.90 C219.12,497.17 214.97,497.70 210.20,498.40 C205.43,499.10 199.90,500.10 195.00,500.10 C190.10,500.10 185.42,499.38 180.80,498.40 C176.18,497.42 171.80,496.02 167.30,494.20 C162.80,492.38 158.00,490.30 153.80,487.50 C149.60,484.70 145.47,480.77 142.10,477.40 C138.73,474.03 136.13,470.67 133.60,467.30 C131.07,463.93 129.00,460.85 126.90,457.20 C124.80,453.55 122.68,449.33 121.00,445.40 C119.32,441.47 117.92,437.82 116.80,433.60 C115.68,429.38 114.72,424.03 114.30,420.10 C113.88,416.17 114.03,413.77 114.30,410.00 C114.57,406.23 115.07,401.27 115.90,397.50 C116.73,393.73 117.75,390.77 119.30,387.40 C120.85,384.03 123.08,380.95 125.20,377.30 C127.32,373.65 129.75,369.15 132.00,365.50 C134.25,361.85 136.18,358.48 138.70,355.40 C141.22,352.32 144.30,349.82 147.10,347.00 C149.90,344.18 152.68,340.62 155.50,338.50 C158.32,336.38 160.63,335.42 164.00,334.30Z" fill="#ffc48c"/>
<path d="M184.20,350.30 C188.87,349.17 192.95,348.60 197.00,348.60 C201.05,348.60 204.33,349.32 208.50,350.30 C212.67,351.28 217.52,352.53 222.00,354.50 C226.48,356.47 231.48,359.43 235.40,362.10 C239.32,364.77 242.40,367.13 245.50,370.50 C248.60,373.87 251.75,378.37 254.00,382.30 C256.25,386.23 257.75,390.45 259.00,394.10 C260.25,397.75 260.93,400.72 261.50,404.20 C262.07,407.68 262.40,411.78 262.40,415.00 C262.40,418.22 262.20,419.57 261.50,423.50 C260.80,427.43 260.02,433.55 258.20,438.60 C256.38,443.65 253.55,449.30 250.60,453.80 C247.65,458.30 244.15,461.95 240.50,465.60 C236.85,469.25 233.20,473.03 228.70,475.70 C224.20,478.37 218.95,480.33 213.50,481.60 C208.05,482.87 201.17,483.30 196.00,483.30 C190.83,483.30 187.28,482.87 182.50,481.60 C177.72,480.33 172.08,478.37 167.30,475.70 C162.52,473.03 157.73,469.53 153.80,465.60 C149.87,461.67 146.50,457.15 143.70,452.10 C140.90,447.05 138.68,440.63 137.00,435.30 C135.32,429.97 134.17,424.32 133.60,420.10 C133.03,415.88 133.32,413.77 133.60,410.00 C133.88,406.23 134.45,401.55 135.30,397.50 C136.15,393.45 137.02,389.63 138.70,385.70 C140.38,381.77 142.60,377.55 145.40,373.90 C148.20,370.25 151.57,366.88 155.50,363.80 C159.43,360.72 164.22,357.65 169.00,355.40 C173.78,353.15 179.53,351.43 184.20,350.30Z" fill="#ffb670"/>
<path d="M184.20,369.70 C188.58,368.35 192.95,367.58 197.00,367.50 C201.05,367.42 204.33,367.85 208.50,369.20 C212.67,370.55 218.07,373.13 222.00,375.60 C225.93,378.07 229.30,381.20 232.10,384.00 C234.90,386.80 236.98,389.03 238.80,392.40 C240.62,395.77 242.02,400.43 243.00,404.20 C243.98,407.97 244.57,411.78 244.70,415.00 C244.83,418.22 244.78,419.28 243.80,423.50 C242.82,427.72 241.32,435.25 238.80,440.30 C236.28,445.35 232.63,450.15 228.70,453.80 C224.77,457.45 220.65,460.47 215.20,462.20 C209.75,463.93 201.73,464.33 196.00,464.20 C190.27,464.07 185.58,463.42 180.80,461.40 C176.02,459.38 171.23,455.90 167.30,452.10 C163.37,448.30 159.72,443.37 157.20,438.60 C154.68,433.83 153.10,427.93 152.20,423.50 C151.30,419.07 151.80,414.93 151.80,412.00 C151.80,409.07 151.72,408.88 152.20,405.90 C152.68,402.92 153.30,397.75 154.70,394.10 C156.10,390.45 157.93,387.08 160.60,384.00 C163.27,380.92 166.77,377.98 170.70,375.60 C174.63,373.22 179.82,371.05 184.20,369.70Z" fill="#fea150"/>
<path d="M185.80,387.40 C189.07,386.42 193.78,386.57 197.00,386.50 C200.22,386.43 202.07,386.30 205.10,387.00 C208.13,387.70 212.38,388.95 215.20,390.70 C218.02,392.45 220.17,394.68 222.00,397.50 C223.83,400.32 225.37,404.68 226.20,407.60 C227.03,410.52 227.00,412.35 227.00,415.00 C227.00,417.65 227.32,420.12 226.20,423.50 C225.08,426.88 222.97,432.08 220.30,435.30 C217.63,438.52 214.25,441.12 210.20,442.80 C206.15,444.48 200.07,445.53 196.00,445.40 C191.93,445.27 189.18,443.97 185.80,442.00 C182.42,440.03 178.22,436.97 175.70,433.60 C173.18,430.23 171.58,425.57 170.70,421.80 C169.82,418.03 170.12,414.50 170.40,411.00 C170.68,407.50 171.23,403.90 172.40,400.80 C173.57,397.70 175.17,394.63 177.40,392.40 C179.63,390.17 182.53,388.38 185.80,387.40Z" fill="#f9912e"/>
<path d="M164.00,334.30 C167.37,333.18 172.07,332.78 175.70,331.80 C179.33,330.82 182.25,328.68 185.80,328.40 C189.35,328.12 193.50,329.87 197.00,330.10 C200.50,330.33 203.20,330.37 206.80,329.80 C210.40,329.23 215.52,326.78 218.60,326.70 C221.68,326.62 223.05,327.75 225.30,329.30 C227.55,330.85 229.57,334.18 232.10,336.00 C234.63,337.82 237.42,338.10 240.50,340.20 C243.58,342.30 247.52,345.65 250.60,348.60 C253.68,351.55 256.20,354.53 259.00,357.90 C261.80,361.27 264.87,365.02 267.40,368.80 C269.93,372.58 272.37,376.67 274.20,380.60 C276.03,384.53 277.42,388.47 278.40,392.40 C279.38,396.33 279.78,400.43 280.10,404.20 C280.42,407.97 280.30,411.78 280.30,415.00 C280.30,418.22 280.57,420.12 280.10,423.50 C279.63,426.88 278.48,431.10 277.50,435.30 C276.52,439.50 275.88,444.50 274.20,448.70 C272.52,452.90 269.93,456.57 267.40,460.50 C264.87,464.43 262.08,468.65 259.00,472.30 C255.92,475.95 252.55,479.32 248.90,482.40 C245.25,485.48 241.32,488.55 237.10,490.80 C232.88,493.05 228.08,494.63 223.60,495.90 C219.12,497.17 214.97,497.70 210.20,498.40 C205.43,499.10 199.90,500.10 195.00,500.10 C190.10,500.10 185.42,499.38 180.80,498.40 C176.18,497.42 171.80,496.02 167.30,494.20 C162.80,492.38 158.00,490.30 153.80,487.50 C149.60,484.70 145.47,480.77 142.10,477.40 C138.73,474.03 136.13,470.67 133.60,467.30 C131.07,463.93 129.00,460.85 126.90,457.20 C124.80,453.55 122.68,449.33 121.00,445.40 C119.32,441.47 117.92,437.82 116.80,433.60 C115.68,429.38 114.72,424.03 114.30,420.10 C113.88,416.17 114.03,413.77 114.30,410.00 C114.57,406.23 115.07,401.27 115.90,397.50 C116.73,393.73 117.75,390.77 119.30,387.40 C120.85,384.03 123.08,380.95 125.20,377.30 C127.32,373.65 129.75,369.15 132.00,365.50 C134.25,361.85 136.18,358.48 138.70,355.40 C141.22,352.32 144.30,349.82 147.10,347.00 C149.90,344.18 152.68,340.62 155.50,338.50 C158.32,336.38 160.63,335.42 164.00,334.30Z" fill="none" stroke="#ff7f0e" stroke-width="1.65" stroke-linejoin="round"/>
<path d="M184.20,350.30 C188.87,349.17 192.95,348.60 197.00,348.60 C201.05,348.60 204.33,349.32 208.50,350.30 C212.67,351.28 217.52,352.53 222.00,354.50 C226.48,356.47 231.48,359.43 235.40,362.10 C239.32,364.77 242.40,367.13 245.50,370.50 C248.60,373.87 251.75,378.37 254.00,382.30 C256.25,386.23 257.75,390.45 259.00,394.10 C260.25,397.75 260.93,400.72 261.50,404.20 C262.07,407.68 262.40,411.78 262.40,415.00 C262.40,418.22 262.20,419.57 261.50,423.50 C260.80,427.43 260.02,433.55 258.20,438.60 C256.38,443.65 253.55,449.30 250.60,453.80 C247.65,458.30 244.15,461.95 240.50,465.60 C236.85,469.25 233.20,473.03 228.70,475.70 C224.20,478.37 218.95,480.33 213.50,481.60 C208.05,482.87 201.17,483.30 196.00,483.30 C190.83,483.30 187.28,482.87 182.50,481.60 C177.72,480.33 172.08,478.37 167.30,475.70 C162.52,473.03 157.73,469.53 153.80,465.60 C149.87,461.67 146.50,457.15 143.70,452.10 C140.90,447.05 138.68,440.63 137.00,435.30 C135.32,429.97 134.17,424.32 133.60,420.10 C133.03,415.88 133.32,413.77 133.60,410.00 C133.88,406.23 134.45,401.55 135.30,397.50 C136.15,393.45 137.02,389.63 138.70,385.70 C140.38,381.77 142.60,377.55 145.40,373.90 C148.20,370.25 151.57,366.88 155.50,363.80 C159.43,360.72 164.22,357.65 169.00,355.40 C173.78,353.15 179.53,351.43 184.20,350.30Z" fill="none" stroke="#ff7f0e" stroke-width="1.65" stroke-linejoin="round"/>
<path d="M184.20,369.70 C188.58,368.35 192.95,367.58 197.00,367.50 C201.05,367.42 204.33,367.85 208.50,369.20 C212.67,370.55 218.07,373.13 222.00,375.60 C225.93,378.07 229.30,381.20 232.10,384.00 C234.90,386.80 236.98,389.03 238.80,392.40 C240.62,395.77 242.02,400.43 243.00,404.20 C243.98,407.97 244.57,411.78 244.70,415.00 C244.83,418.22 244.78,419.28 243.80,423.50 C242.82,427.72 241.32,435.25 238.80,440.30 C236.28,445.35 232.63,450.15 228.70,453.80 C224.77,457.45 220.65,460.47 215.20,462.20 C209.75,463.93 201.73,464.33 196.00,464.20 C190.27,464.07 185.58,463.42 180.80,461.40 C176.02,459.38 171.23,455.90 167.30,452.10 C163.37,448.30 159.72,443.37 157.20,438.60 C154.68,433.83 153.10,427.93 152.20,423.50 C151.30,419.07 151.80,414.93 151.80,412.00 C151.80,409.07 151.72,408.88 152.20,405.90 C152.68,402.92 153.30,397.75 154.70,394.10 C156.10,390.45 157.93,387.08 160.60,384.00 C163.27,380.92 166.77,377.98 170.70,375.60 C174.63,373.22 179.82,371.05 184.20,369.70Z" fill="none" stroke="#ff7f0e" stroke-width="1.65" stroke-linejoin="round"/>
<path d="M185.80,387.40 C189.07,386.42 193.78,386.57 197.00,386.50 C200.22,386.43 202.07,386.30 205.10,387.00 C208.13,387.70 212.38,388.95 215.20,390.70 C218.02,392.45 220.17,394.68 222.00,397.50 C223.83,400.32 225.37,404.68 226.20,407.60 C227.03,410.52 227.00,412.35 227.00,415.00 C227.00,417.65 227.32,420.12 226.20,423.50 C225.08,426.88 222.97,432.08 220.30,435.30 C217.63,438.52 214.25,441.12 210.20,442.80 C206.15,444.48 200.07,445.53 196.00,445.40 C191.93,445.27 189.18,443.97 185.80,442.00 C182.42,440.03 178.22,436.97 175.70,433.60 C173.18,430.23 171.58,425.57 170.70,421.80 C169.82,418.03 170.12,414.50 170.40,411.00 C170.68,407.50 171.23,403.90 172.40,400.80 C173.57,397.70 175.17,394.63 177.40,392.40 C179.63,390.17 182.53,388.38 185.80,387.40Z" fill="none" stroke="#ff7f0e" stroke-width="1.65" stroke-linejoin="round"/>
<path d="M117.40,395.80h6.2M120.50,392.60v6.4" stroke="#4a72c4" stroke-opacity="0.55" stroke-width="1.15"/>
<path d="M194.80,412.50H201.40L198.10,419.00Z" fill="none" stroke="#2e2444" stroke-opacity="0.80" stroke-width="1.15" stroke-linejoin="miter"/>
<text x="258.97" y="518.80" font-size="10.70" textLength="54.00" lengthAdjust="spacingAndGlyphs" fill="#ffa984" font-weight="bold" style="font-family:'Liberation Sans',sans-serif">EOS v0.3.2</text>
<rect x="58.70" y="299.55" width="97.40" height="46.70" rx="1.7" fill="#fff" fill-opacity="0.8" stroke="#c8c8c8" stroke-opacity="0.9" stroke-width="1"/>
<path d="M70.00,307.75h6.6M73.30,304.45v6.6" stroke="#4a72c4" stroke-opacity="0.55" stroke-width="1.1"/>
<text x="91.60" y="311.05" font-size="10.80" textLength="15.63" lengthAdjust="spacingAndGlyphs" fill="#111">SM</text>
<path d="M70.10,319.35H76.50L73.30,325.65Z" fill="none" stroke="#2e2444" stroke-opacity="0.80" stroke-width="1.1"/>
<text x="92.30" y="325.65" font-size="10.80" textLength="58.29" lengthAdjust="spacingAndGlyphs" fill="#111">best-fit point</text>
<rect x="62.20" y="332.95" width="22.0" height="8.1" fill="#ff7f0e"/>
<text x="91.98" y="340.25" font-size="10.80" textLength="47.06" lengthAdjust="spacingAndGlyphs" fill="#111">Belle 2018</text>
<rect x="53.55" y="294.30" width="270.10" height="234.10" fill="none" stroke="#000" stroke-width="1.25"/>
<path d="M53.55,528.40v3.80M53.55,294.30v-3.80" stroke="#000" stroke-width="1.1"/><path d="M63.20,528.40v2.10M63.20,294.30v-2.10" stroke="#000" stroke-width="1.0"/><path d="M72.84,528.40v2.10M72.84,294.30v-2.10" stroke="#000" stroke-width="1.0"/><path d="M82.49,528.40v2.10M82.49,294.30v-2.10" stroke="#000" stroke-width="1.0"/><path d="M92.14,528.40v3.80M92.14,294.30v-3.80" stroke="#000" stroke-width="1.1"/><path d="M101.78,528.40v2.10M101.78,294.30v-2.10" stroke="#000" stroke-width="1.0"/><path d="M111.43,528.40v2.10M111.43,294.30v-2.10" stroke="#000" stroke-width="1.0"/><path d="M121.07,528.40v2.10M121.07,294.30v-2.10" stroke="#000" stroke-width="1.0"/><path d="M130.72,528.40v3.80M130.72,294.30v-3.80" stroke="#000" stroke-width="1.1"/><path d="M140.37,528.40v2.10M140.37,294.30v-2.10" stroke="#000" stroke-width="1.0"/><path d="M150.01,528.40v2.10M150.01,294.30v-2.10" stroke="#000" stroke-width="1.0"/><path d="M159.66,528.40v2.10M159.66,294.30v-2.10" stroke="#000" stroke-width="1.0"/><path d="M169.31,528.40v3.80M169.31,294.30v-3.80" stroke="#000" stroke-width="1.1"/><path d="M178.95,528.40v2.10M178.95,294.30v-2.10" stroke="#000" stroke-width="1.0"/><path d="M188.60,528.40v2.10M188.60,294.30v-2.10" stroke="#000" stroke-width="1.0"/><path d="M198.25,528.40v2.10M198.25,294.30v-2.10" stroke="#000" stroke-width="1.0"/><path d="M207.89,528.40v3.80M207.89,294.30v-3.80" stroke="#000" stroke-width="1.1"/><path d="M217.54,528.40v2.10M217.54,294.30v-2.10" stroke="#000" stroke-width="1.0"/><path d="M227.19,528.40v2.10M227.19,294.30v-2.10" stroke="#000" stroke-width="1.0"/><path d="M236.83,528.40v2.10M236.83,294.30v-2.10" stroke="#000" stroke-width="1.0"/><path d="M246.48,528.40v3.80M246.48,294.30v-3.80" stroke="#000" stroke-width="1.1"/><path d="M256.12,528.40v2.10M256.12,294.30v-2.10" stroke="#000" stroke-width="1.0"/><path d="M265.77,528.40v2.10M265.77,294.30v-2.10" stroke="#000" stroke-width="1.0"/><path d="M275.42,528.40v2.10M275.42,294.30v-2.10" stroke="#000" stroke-width="1.0"/><path d="M285.06,528.40v3.80M285.06,294.30v-3.80" stroke="#000" stroke-width="1.1"/><path d="M294.71,528.40v2.10M294.71,294.30v-2.10" stroke="#000" stroke-width="1.0"/><path d="M304.36,528.40v2.10M304.36,294.30v-2.10" stroke="#000" stroke-width="1.0"/><path d="M314.00,528.40v2.10M314.00,294.30v-2.10" stroke="#000" stroke-width="1.0"/><path d="M323.65,528.40v3.80M323.65,294.30v-3.80" stroke="#000" stroke-width="1.1"/><path d="M53.55,528.40h-3.80M323.65,528.40h3.80" stroke="#000" stroke-width="1.1"/><path d="M53.55,520.04h-2.10M323.65,520.04h2.10" stroke="#000" stroke-width="1.0"/><path d="M53.55,511.68h-2.10M323.65,511.68h2.10" stroke="#000" stroke-width="1.0"/><path d="M53.55,503.32h-2.10M323.65,503.32h2.10" stroke="#000" stroke-width="1.0"/><path d="M53.55,494.96h-3.80M323.65,494.96h3.80" stroke="#000" stroke-width="1.1"/><path d="M53.55,486.60h-2.10M323.65,486.60h2.10" stroke="#000" stroke-width="1.0"/><path d="M53.55,478.24h-2.10M323.65,478.24h2.10" stroke="#000" stroke-width="1.0"/><path d="M53.55,469.88h-2.10M323.65,469.88h2.10" stroke="#000" stroke-width="1.0"/><path d="M53.55,461.51h-3.80M323.65,461.51h3.80" stroke="#000" stroke-width="1.1"/><path d="M53.55,453.15h-2.10M323.65,453.15h2.10" stroke="#000" stroke-width="1.0"/><path d="M53.55,444.79h-2.10M323.65,444.79h2.10" stroke="#000" stroke-width="1.0"/><path d="M53.55,436.43h-2.10M323.65,436.43h2.10" stroke="#000" stroke-width="1.0"/><path d="M53.55,428.07h-3.80M323.65,428.07h3.80" stroke="#000" stroke-width="1.1"/><path d="M53.55,419.71h-2.10M323.65,419.71h2.10" stroke="#000" stroke-width="1.0"/><path d="M53.55,411.35h-2.10M323.65,411.35h2.10" stroke="#000" stroke-width="1.0"/><path d="M53.55,402.99h-2.10M323.65,402.99h2.10" stroke="#000" stroke-width="1.0"/><path d="M53.55,394.63h-3.80M323.65,394.63h3.80" stroke="#000" stroke-width="1.1"/><path d="M53.55,386.27h-2.10M323.65,386.27h2.10" stroke="#000" stroke-width="1.0"/><path d="M53.55,377.91h-2.10M323.65,377.91h2.10" stroke="#000" stroke-width="1.0"/><path d="M53.55,369.55h-2.10M323.65,369.55h2.10" stroke="#000" stroke-width="1.0"/><path d="M53.55,361.19h-3.80M323.65,361.19h3.80" stroke="#000" stroke-width="1.1"/><path d="M53.55,352.83h-2.10M323.65,352.83h2.10" stroke="#000" stroke-width="1.0"/><path d="M53.55,344.46h-2.10M323.65,344.46h2.10" stroke="#000" stroke-width="1.0"/><path d="M53.55,336.10h-2.10M323.65,336.10h2.10" stroke="#000" stroke-width="1.0"/><path d="M53.55,327.74h-3.80M323.65,327.74h3.80" stroke="#000" stroke-width="1.1"/><path d="M53.55,319.38h-2.10M323.65,319.38h2.10" stroke="#000" stroke-width="1.0"/><path d="M53.55,311.02h-2.10M323.65,311.02h2.10" stroke="#000" stroke-width="1.0"/><path d="M53.55,302.66h-2.10M323.65,302.66h2.10" stroke="#000" stroke-width="1.0"/><path d="M53.55,294.30h-3.80M323.65,294.30h3.80" stroke="#000" stroke-width="1.1"/>
<path d="M40.70,540.10h7.00" stroke="#333" stroke-width="0.65"/><text x="48.17" y="542.85" font-size="11.40" textLength="19.00" lengthAdjust="spacingAndGlyphs" fill="#111">0.04</text>
<path d="M79.29,540.10h7.00" stroke="#333" stroke-width="0.65"/><text x="86.74" y="542.85" font-size="11.40" textLength="19.46" lengthAdjust="spacingAndGlyphs" fill="#111">0.02</text>
<text x="121.38" y="542.85" font-size="11.40" textLength="19.28" lengthAdjust="spacingAndGlyphs" fill="#111">0.00</text>
<text x="159.96" y="542.85" font-size="11.40" textLength="19.46" lengthAdjust="spacingAndGlyphs" fill="#111">0.02</text>
<text x="198.56" y="542.85" font-size="11.40" textLength="19.00" lengthAdjust="spacingAndGlyphs" fill="#111">0.04</text>
<text x="237.14" y="542.85" font-size="11.40" textLength="19.17" lengthAdjust="spacingAndGlyphs" fill="#111">0.06</text>
<text x="275.72" y="542.85" font-size="11.40" textLength="19.28" lengthAdjust="spacingAndGlyphs" fill="#111">0.08</text>
<text x="314.31" y="542.85" font-size="11.40" textLength="19.28" lengthAdjust="spacingAndGlyphs" fill="#111">0.10</text>
<path d="M19.85,529.95h7.00" stroke="#333" stroke-width="0.65"/><text x="27.31" y="532.70" font-size="11.40" textLength="19.28" lengthAdjust="spacingAndGlyphs" fill="#111">0.08</text>
<path d="M19.85,496.51h7.00" stroke="#333" stroke-width="0.65"/><text x="27.31" y="499.26" font-size="11.40" textLength="19.17" lengthAdjust="spacingAndGlyphs" fill="#111">0.06</text>
<path d="M19.85,463.06h7.00" stroke="#333" stroke-width="0.65"/><text x="27.32" y="465.81" font-size="11.40" textLength="19.00" lengthAdjust="spacingAndGlyphs" fill="#111">0.04</text>
<path d="M19.85,429.62h7.00" stroke="#333" stroke-width="0.65"/><text x="27.31" y="432.37" font-size="11.40" textLength="19.46" lengthAdjust="spacingAndGlyphs" fill="#111">0.02</text>
<text x="27.31" y="398.93" font-size="11.40" textLength="19.28" lengthAdjust="spacingAndGlyphs" fill="#111">0.00</text>
<text x="27.31" y="365.49" font-size="11.40" textLength="19.46" lengthAdjust="spacingAndGlyphs" fill="#111">0.02</text>
<text x="27.32" y="332.04" font-size="11.40" textLength="19.00" lengthAdjust="spacingAndGlyphs" fill="#111">0.04</text>
<text x="27.31" y="298.60" font-size="11.40" textLength="19.17" lengthAdjust="spacingAndGlyphs" fill="#111">0.06</text>
<g transform="translate(167.90,561.70)"><path d="M5.90,-13.20L6.50,-13.30L12.40,0.00L0.00,0.00Z M5.76,-11.05L1.17,-1.20L10.35,-1.20Z" fill="#111" fill-rule="evenodd"/><text x="15.25" y="0.00" font-size="19.50" font-style="italic" textLength="10.58" lengthAdjust="spacingAndGlyphs" fill="#111">A</text><text x="26.83" y="2.20" font-size="11.90" textLength="15.06" lengthAdjust="spacingAndGlyphs" fill="#111">FB</text></g>
<g transform="translate(13.10,425.90) rotate(-90)"><path d="M5.90,-13.10L6.50,-13.20L12.40,0.00L0.00,0.00Z M5.76,-10.97L1.17,-1.20L10.34,-1.20Z" fill="#111" fill-rule="evenodd"/><text x="13.98" y="0.00" font-size="19.30" font-style="italic" textLength="11.16" lengthAdjust="spacingAndGlyphs" fill="#111">S</text><text x="23.60" y="3.00" font-size="11.50" textLength="5.98" lengthAdjust="spacingAndGlyphs" fill="#111">3</text></g>
<path d="M518.90,342.40 C520.08,342.52 521.68,344.12 523.10,344.90 C524.52,345.68 525.27,346.85 527.40,347.10 C529.53,347.35 533.80,346.65 535.90,346.40 C538.00,346.15 538.37,345.97 540.00,345.60 C541.63,345.23 543.80,344.07 545.70,344.20 C547.60,344.33 549.52,345.57 551.40,346.40 C553.28,347.23 554.63,348.27 557.00,349.20 C559.37,350.13 562.75,350.82 565.60,352.00 C568.45,353.18 571.27,355.12 574.10,356.30 C576.93,357.48 580.00,358.03 582.60,359.10 C585.20,360.17 587.82,361.27 589.70,362.70 C591.58,364.13 592.02,366.17 593.90,367.70 C595.78,369.23 598.87,370.25 601.00,371.90 C603.13,373.55 605.03,375.47 606.70,377.60 C608.37,379.73 609.33,382.57 611.00,384.70 C612.67,386.83 614.82,388.75 616.70,390.40 C618.58,392.05 620.88,392.95 622.30,394.60 C623.72,396.25 624.60,398.17 625.20,400.30 C625.80,402.43 625.60,405.28 625.90,407.40 C626.20,409.52 626.62,411.07 627.00,413.00 C627.38,414.93 628.13,416.23 628.20,419.00 C628.27,421.77 627.78,426.58 627.40,429.60 C627.02,432.62 626.02,434.83 625.90,437.10 C625.78,439.37 627.20,440.93 626.70,443.20 C626.20,445.47 624.53,448.20 622.90,450.70 C621.27,453.20 619.15,455.68 616.90,458.20 C614.65,460.72 611.67,463.03 609.40,465.80 C607.13,468.57 605.82,472.67 603.30,474.80 C600.78,476.93 597.32,477.08 594.30,478.60 C591.28,480.12 588.22,482.47 585.20,483.90 C582.18,485.33 578.97,486.58 576.20,487.20 C573.43,487.82 571.62,487.60 568.60,487.60 C565.58,487.60 561.62,487.45 558.10,487.20 C554.58,486.95 550.52,486.47 547.50,486.10 C544.48,485.73 541.85,485.37 540.00,485.00 C538.15,484.63 538.75,484.72 536.40,483.90 C534.05,483.08 529.42,481.37 525.90,480.10 C522.38,478.83 518.82,477.68 515.30,476.30 C511.78,474.92 507.57,473.55 504.80,471.80 C502.03,470.05 500.72,467.55 498.70,465.80 C496.68,464.05 494.58,462.82 492.70,461.30 C490.82,459.78 488.53,458.47 487.40,456.70 C486.27,454.93 487.03,452.58 485.90,450.70 C484.77,448.82 482.48,447.03 480.60,445.40 C478.72,443.77 476.60,442.53 474.60,440.90 C472.60,439.27 469.73,437.73 468.60,435.60 C467.47,433.47 468.05,430.73 467.80,428.10 C467.55,425.47 467.60,422.07 467.10,419.80 C466.60,417.53 465.28,416.47 464.80,414.50 C464.32,412.53 464.30,409.90 464.20,408.00 C464.10,406.10 464.43,405.33 464.20,403.10 C463.97,400.87 463.03,397.20 462.80,394.60 C462.57,392.00 462.20,389.63 462.80,387.50 C463.40,385.37 464.98,383.68 466.40,381.80 C467.82,379.92 469.88,378.32 471.30,376.20 C472.72,374.08 473.35,371.23 474.90,369.10 C476.45,366.97 478.47,364.95 480.60,363.40 C482.73,361.85 485.58,361.22 487.70,359.80 C489.82,358.38 491.42,356.43 493.30,354.90 C495.18,353.37 497.10,351.43 499.00,350.60 C500.90,349.77 502.57,350.25 504.70,349.90 C506.83,349.55 509.92,349.45 511.80,348.50 C513.68,347.55 514.82,345.22 516.00,344.20 C517.18,343.18 517.72,342.28 518.90,342.40Z" fill="#ffc48c"/>
<path d="M511.80,365.50 C515.35,364.55 519.32,364.10 523.10,363.40 C526.88,362.70 530.85,361.57 534.50,361.30 C538.15,361.03 542.18,361.57 545.00,361.80 C547.82,362.03 548.45,362.08 551.40,362.70 C554.35,363.32 558.92,364.20 562.70,365.50 C566.48,366.80 570.32,368.72 574.10,370.50 C577.88,372.28 582.10,374.32 585.40,376.20 C588.70,378.08 591.30,379.68 593.90,381.80 C596.50,383.92 599.10,386.53 601.00,388.90 C602.90,391.27 604.12,393.38 605.30,396.00 C606.48,398.62 607.38,401.77 608.10,404.60 C608.82,407.43 609.13,410.08 609.60,413.00 C610.07,415.92 611.20,418.33 610.90,422.10 C610.60,425.87 609.57,431.08 607.80,435.60 C606.03,440.12 603.30,445.17 600.30,449.20 C597.30,453.23 593.57,456.78 589.80,459.80 C586.03,462.82 581.98,465.42 577.70,467.30 C573.42,469.18 568.37,470.30 564.10,471.10 C559.83,471.90 556.12,472.03 552.10,472.10 C548.08,472.17 544.37,472.55 540.00,471.50 C535.63,470.45 530.27,467.75 525.90,465.80 C521.53,463.85 517.58,462.32 513.80,459.80 C510.02,457.28 506.47,453.97 503.20,450.70 C499.93,447.43 496.70,443.72 494.20,440.20 C491.70,436.68 489.83,433.13 488.20,429.60 C486.57,426.07 485.32,421.93 484.40,419.00 C483.48,416.07 483.10,414.65 482.70,412.00 C482.30,409.35 481.88,406.23 482.00,403.10 C482.12,399.97 482.45,396.50 483.40,393.20 C484.35,389.90 486.05,386.13 487.70,383.30 C489.35,380.47 490.95,378.57 493.30,376.20 C495.65,373.83 498.72,370.88 501.80,369.10 C504.88,367.32 508.25,366.45 511.80,365.50Z" fill="#ffb670"/>
<path d="M523.10,380.40 C526.88,378.98 530.85,378.17 534.50,377.60 C538.15,377.03 542.18,377.00 545.00,377.00 C547.82,377.00 548.45,377.03 551.40,377.60 C554.35,378.17 559.15,379.10 562.70,380.40 C566.25,381.70 569.62,383.50 572.70,385.40 C575.78,387.30 578.85,389.55 581.20,391.80 C583.55,394.05 585.27,396.53 586.80,398.90 C588.33,401.27 589.40,403.32 590.40,406.00 C591.40,408.68 592.40,412.07 592.80,415.00 C593.20,417.93 593.57,420.17 592.80,423.60 C592.03,427.03 590.47,431.58 588.20,435.60 C585.93,439.62 582.72,444.55 579.20,447.70 C575.68,450.85 571.37,452.95 567.10,454.50 C562.83,456.05 558.12,456.75 553.60,457.00 C549.08,457.25 544.37,457.30 540.00,456.00 C535.63,454.70 531.27,451.58 527.40,449.20 C523.53,446.82 520.07,444.72 516.80,441.70 C513.53,438.68 510.18,434.62 507.80,431.10 C505.42,427.58 503.80,423.78 502.50,420.60 C501.20,417.42 500.35,414.92 500.00,412.00 C499.65,409.08 499.62,406.23 500.40,403.10 C501.18,399.97 502.80,396.03 504.70,393.20 C506.60,390.37 508.73,388.23 511.80,386.10 C514.87,383.97 519.32,381.82 523.10,380.40Z" fill="#fea150"/>
<path d="M537.30,393.20 C540.58,392.73 545.22,392.73 548.50,393.20 C551.78,393.67 554.40,394.82 557.00,396.00 C559.60,397.18 561.97,398.63 564.10,400.30 C566.23,401.97 568.13,403.88 569.80,406.00 C571.47,408.12 573.17,410.32 574.10,413.00 C575.03,415.68 576.05,418.58 575.40,422.10 C574.75,425.62 572.58,431.08 570.20,434.10 C567.82,437.12 564.37,438.88 561.10,440.20 C557.83,441.52 554.12,441.88 550.60,442.00 C547.08,442.12 542.62,441.97 540.00,440.90 C537.38,439.83 537.25,437.73 534.90,435.60 C532.55,433.47 528.42,430.87 525.90,428.10 C523.38,425.33 521.08,421.68 519.80,419.00 C518.52,416.32 518.35,413.70 518.20,412.00 C518.05,410.30 518.32,410.52 518.90,408.80 C519.48,407.08 520.05,403.83 521.70,401.70 C523.35,399.57 526.20,397.42 528.80,396.00 C531.40,394.58 534.02,393.67 537.30,393.20Z" fill="#f9912e"/>
<path d="M518.90,342.40 C520.08,342.52 521.68,344.12 523.10,344.90 C524.52,345.68 525.27,346.85 527.40,347.10 C529.53,347.35 533.80,346.65 535.90,346.40 C538.00,346.15 538.37,345.97 540.00,345.60 C541.63,345.23 543.80,344.07 545.70,344.20 C547.60,344.33 549.52,345.57 551.40,346.40 C553.28,347.23 554.63,348.27 557.00,349.20 C559.37,350.13 562.75,350.82 565.60,352.00 C568.45,353.18 571.27,355.12 574.10,356.30 C576.93,357.48 580.00,358.03 582.60,359.10 C585.20,360.17 587.82,361.27 589.70,362.70 C591.58,364.13 592.02,366.17 593.90,367.70 C595.78,369.23 598.87,370.25 601.00,371.90 C603.13,373.55 605.03,375.47 606.70,377.60 C608.37,379.73 609.33,382.57 611.00,384.70 C612.67,386.83 614.82,388.75 616.70,390.40 C618.58,392.05 620.88,392.95 622.30,394.60 C623.72,396.25 624.60,398.17 625.20,400.30 C625.80,402.43 625.60,405.28 625.90,407.40 C626.20,409.52 626.62,411.07 627.00,413.00 C627.38,414.93 628.13,416.23 628.20,419.00 C628.27,421.77 627.78,426.58 627.40,429.60 C627.02,432.62 626.02,434.83 625.90,437.10 C625.78,439.37 627.20,440.93 626.70,443.20 C626.20,445.47 624.53,448.20 622.90,450.70 C621.27,453.20 619.15,455.68 616.90,458.20 C614.65,460.72 611.67,463.03 609.40,465.80 C607.13,468.57 605.82,472.67 603.30,474.80 C600.78,476.93 597.32,477.08 594.30,478.60 C591.28,480.12 588.22,482.47 585.20,483.90 C582.18,485.33 578.97,486.58 576.20,487.20 C573.43,487.82 571.62,487.60 568.60,487.60 C565.58,487.60 561.62,487.45 558.10,487.20 C554.58,486.95 550.52,486.47 547.50,486.10 C544.48,485.73 541.85,485.37 540.00,485.00 C538.15,484.63 538.75,484.72 536.40,483.90 C534.05,483.08 529.42,481.37 525.90,480.10 C522.38,478.83 518.82,477.68 515.30,476.30 C511.78,474.92 507.57,473.55 504.80,471.80 C502.03,470.05 500.72,467.55 498.70,465.80 C496.68,464.05 494.58,462.82 492.70,461.30 C490.82,459.78 488.53,458.47 487.40,456.70 C486.27,454.93 487.03,452.58 485.90,450.70 C484.77,448.82 482.48,447.03 480.60,445.40 C478.72,443.77 476.60,442.53 474.60,440.90 C472.60,439.27 469.73,437.73 468.60,435.60 C467.47,433.47 468.05,430.73 467.80,428.10 C467.55,425.47 467.60,422.07 467.10,419.80 C466.60,417.53 465.28,416.47 464.80,414.50 C464.32,412.53 464.30,409.90 464.20,408.00 C464.10,406.10 464.43,405.33 464.20,403.10 C463.97,400.87 463.03,397.20 462.80,394.60 C462.57,392.00 462.20,389.63 462.80,387.50 C463.40,385.37 464.98,383.68 466.40,381.80 C467.82,379.92 469.88,378.32 471.30,376.20 C472.72,374.08 473.35,371.23 474.90,369.10 C476.45,366.97 478.47,364.95 480.60,363.40 C482.73,361.85 485.58,361.22 487.70,359.80 C489.82,358.38 491.42,356.43 493.30,354.90 C495.18,353.37 497.10,351.43 499.00,350.60 C500.90,349.77 502.57,350.25 504.70,349.90 C506.83,349.55 509.92,349.45 511.80,348.50 C513.68,347.55 514.82,345.22 516.00,344.20 C517.18,343.18 517.72,342.28 518.90,342.40Z" fill="none" stroke="#ff7f0e" stroke-width="1.65" stroke-linejoin="round"/>
<path d="M511.80,365.50 C515.35,364.55 519.32,364.10 523.10,363.40 C526.88,362.70 530.85,361.57 534.50,361.30 C538.15,361.03 542.18,361.57 545.00,361.80 C547.82,362.03 548.45,362.08 551.40,362.70 C554.35,363.32 558.92,364.20 562.70,365.50 C566.48,366.80 570.32,368.72 574.10,370.50 C577.88,372.28 582.10,374.32 585.40,376.20 C588.70,378.08 591.30,379.68 593.90,381.80 C596.50,383.92 599.10,386.53 601.00,388.90 C602.90,391.27 604.12,393.38 605.30,396.00 C606.48,398.62 607.38,401.77 608.10,404.60 C608.82,407.43 609.13,410.08 609.60,413.00 C610.07,415.92 611.20,418.33 610.90,422.10 C610.60,425.87 609.57,431.08 607.80,435.60 C606.03,440.12 603.30,445.17 600.30,449.20 C597.30,453.23 593.57,456.78 589.80,459.80 C586.03,462.82 581.98,465.42 577.70,467.30 C573.42,469.18 568.37,470.30 564.10,471.10 C559.83,471.90 556.12,472.03 552.10,472.10 C548.08,472.17 544.37,472.55 540.00,471.50 C535.63,470.45 530.27,467.75 525.90,465.80 C521.53,463.85 517.58,462.32 513.80,459.80 C510.02,457.28 506.47,453.97 503.20,450.70 C499.93,447.43 496.70,443.72 494.20,440.20 C491.70,436.68 489.83,433.13 488.20,429.60 C486.57,426.07 485.32,421.93 484.40,419.00 C483.48,416.07 483.10,414.65 482.70,412.00 C482.30,409.35 481.88,406.23 482.00,403.10 C482.12,399.97 482.45,396.50 483.40,393.20 C484.35,389.90 486.05,386.13 487.70,383.30 C489.35,380.47 490.95,378.57 493.30,376.20 C495.65,373.83 498.72,370.88 501.80,369.10 C504.88,367.32 508.25,366.45 511.80,365.50Z" fill="none" stroke="#ff7f0e" stroke-width="1.65" stroke-linejoin="round"/>
<path d="M523.10,380.40 C526.88,378.98 530.85,378.17 534.50,377.60 C538.15,377.03 542.18,377.00 545.00,377.00 C547.82,377.00 548.45,377.03 551.40,377.60 C554.35,378.17 559.15,379.10 562.70,380.40 C566.25,381.70 569.62,383.50 572.70,385.40 C575.78,387.30 578.85,389.55 581.20,391.80 C583.55,394.05 585.27,396.53 586.80,398.90 C588.33,401.27 589.40,403.32 590.40,406.00 C591.40,408.68 592.40,412.07 592.80,415.00 C593.20,417.93 593.57,420.17 592.80,423.60 C592.03,427.03 590.47,431.58 588.20,435.60 C585.93,439.62 582.72,444.55 579.20,447.70 C575.68,450.85 571.37,452.95 567.10,454.50 C562.83,456.05 558.12,456.75 553.60,457.00 C549.08,457.25 544.37,457.30 540.00,456.00 C535.63,454.70 531.27,451.58 527.40,449.20 C523.53,446.82 520.07,444.72 516.80,441.70 C513.53,438.68 510.18,434.62 507.80,431.10 C505.42,427.58 503.80,423.78 502.50,420.60 C501.20,417.42 500.35,414.92 500.00,412.00 C499.65,409.08 499.62,406.23 500.40,403.10 C501.18,399.97 502.80,396.03 504.70,393.20 C506.60,390.37 508.73,388.23 511.80,386.10 C514.87,383.97 519.32,381.82 523.10,380.40Z" fill="none" stroke="#ff7f0e" stroke-width="1.65" stroke-linejoin="round"/>
<path d="M537.30,393.20 C540.58,392.73 545.22,392.73 548.50,393.20 C551.78,393.67 554.40,394.82 557.00,396.00 C559.60,397.18 561.97,398.63 564.10,400.30 C566.23,401.97 568.13,403.88 569.80,406.00 C571.47,408.12 573.17,410.32 574.10,413.00 C575.03,415.68 576.05,418.58 575.40,422.10 C574.75,425.62 572.58,431.08 570.20,434.10 C567.82,437.12 564.37,438.88 561.10,440.20 C557.83,441.52 554.12,441.88 550.60,442.00 C547.08,442.12 542.62,441.97 540.00,440.90 C537.38,439.83 537.25,437.73 534.90,435.60 C532.55,433.47 528.42,430.87 525.90,428.10 C523.38,425.33 521.08,421.68 519.80,419.00 C518.52,416.32 518.35,413.70 518.20,412.00 C518.05,410.30 518.32,410.52 518.90,408.80 C519.48,407.08 520.05,403.83 521.70,401.70 C523.35,399.57 526.20,397.42 528.80,396.00 C531.40,394.58 534.02,393.67 537.30,393.20Z" fill="none" stroke="#ff7f0e" stroke-width="1.65" stroke-linejoin="round"/>
<line x1="467.1" y1="415.8" x2="466.3" y2="497.3" stroke="#a2b9df" stroke-width="1.3"/>
<path d="M543.50,416.40H550.10L546.80,422.90Z" fill="none" stroke="#2e2444" stroke-opacity="0.80" stroke-width="1.15" stroke-linejoin="miter"/>
<text x="611.72" y="518.70" font-size="10.70" textLength="54.00" lengthAdjust="spacingAndGlyphs" fill="#ffa984" font-weight="bold" style="font-family:'Liberation Sans',sans-serif">EOS v0.3.2</text>
<rect x="403.00" y="299.55" width="97.40" height="46.70" rx="1.7" fill="#fff" fill-opacity="0.8" stroke="#c8c8c8" stroke-opacity="0.9" stroke-width="1"/>
<path d="M414.40,304.75H420.80L417.60,311.05Z" fill="none" stroke="#2e2444" stroke-opacity="0.80" stroke-width="1.1"/>
<text x="436.60" y="311.05" font-size="10.80" textLength="58.29" lengthAdjust="spacingAndGlyphs" fill="#111">best-fit point</text>
<rect x="406.50" y="318.35" width="22.0" height="8.1" fill="#ff7f0e"/>
<text x="436.28" y="325.65" font-size="10.80" textLength="47.06" lengthAdjust="spacingAndGlyphs" fill="#111">Belle 2018</text>
<rect x="406.50" y="332.95" width="22.0" height="8.1" fill="#a2b9df"/>
<text x="435.90" y="340.25" font-size="10.80" textLength="15.63" lengthAdjust="spacingAndGlyphs" fill="#111">SM</text>
<rect x="397.85" y="294.30" width="278.55" height="234.00" fill="none" stroke="#000" stroke-width="1.25"/>
<path d="M397.85,528.30v3.80M397.85,294.30v-3.80" stroke="#000" stroke-width="1.1"/><path d="M407.80,528.30v2.10M407.80,294.30v-2.10" stroke="#000" stroke-width="1.0"/><path d="M417.75,528.30v2.10M417.75,294.30v-2.10" stroke="#000" stroke-width="1.0"/><path d="M427.69,528.30v2.10M427.69,294.30v-2.10" stroke="#000" stroke-width="1.0"/><path d="M437.64,528.30v3.80M437.64,294.30v-3.80" stroke="#000" stroke-width="1.1"/><path d="M447.59,528.30v2.10M447.59,294.30v-2.10" stroke="#000" stroke-width="1.0"/><path d="M457.54,528.30v2.10M457.54,294.30v-2.10" stroke="#000" stroke-width="1.0"/><path d="M467.49,528.30v2.10M467.49,294.30v-2.10" stroke="#000" stroke-width="1.0"/><path d="M477.44,528.30v3.80M477.44,294.30v-3.80" stroke="#000" stroke-width="1.1"/><path d="M487.38,528.30v2.10M487.38,294.30v-2.10" stroke="#000" stroke-width="1.0"/><path d="M497.33,528.30v2.10M497.33,294.30v-2.10" stroke="#000" stroke-width="1.0"/><path d="M507.28,528.30v2.10M507.28,294.30v-2.10" stroke="#000" stroke-width="1.0"/><path d="M517.23,528.30v3.80M517.23,294.30v-3.80" stroke="#000" stroke-width="1.1"/><path d="M527.18,528.30v2.10M527.18,294.30v-2.10" stroke="#000" stroke-width="1.0"/><path d="M537.12,528.30v2.10M537.12,294.30v-2.10" stroke="#000" stroke-width="1.0"/><path d="M547.07,528.30v2.10M547.07,294.30v-2.10" stroke="#000" stroke-width="1.0"/><path d="M557.02,528.30v3.80M557.02,294.30v-3.80" stroke="#000" stroke-width="1.1"/><path d="M566.97,528.30v2.10M566.97,294.30v-2.10" stroke="#000" stroke-width="1.0"/><path d="M576.92,528.30v2.10M576.92,294.30v-2.10" stroke="#000" stroke-width="1.0"/><path d="M586.87,528.30v2.10M586.87,294.30v-2.10" stroke="#000" stroke-width="1.0"/><path d="M596.81,528.30v3.80M596.81,294.30v-3.80" stroke="#000" stroke-width="1.1"/><path d="M606.76,528.30v2.10M606.76,294.30v-2.10" stroke="#000" stroke-width="1.0"/><path d="M616.71,528.30v2.10M616.71,294.30v-2.10" stroke="#000" stroke-width="1.0"/><path d="M626.66,528.30v2.10M626.66,294.30v-2.10" stroke="#000" stroke-width="1.0"/><path d="M636.61,528.30v3.80M636.61,294.30v-3.80" stroke="#000" stroke-width="1.1"/><path d="M646.56,528.30v2.10M646.56,294.30v-2.10" stroke="#000" stroke-width="1.0"/><path d="M656.50,528.30v2.10M656.50,294.30v-2.10" stroke="#000" stroke-width="1.0"/><path d="M666.45,528.30v2.10M666.45,294.30v-2.10" stroke="#000" stroke-width="1.0"/><path d="M676.40,528.30v3.80M676.40,294.30v-3.80" stroke="#000" stroke-width="1.1"/><path d="M397.85,528.30h-3.80M676.40,528.30h3.80" stroke="#000" stroke-width="1.1"/><path d="M397.85,521.61h-2.10M676.40,521.61h2.10" stroke="#000" stroke-width="1.0"/><path d="M397.85,514.93h-2.10M676.40,514.93h2.10" stroke="#000" stroke-width="1.0"/><path d="M397.85,508.24h-2.10M676.40,508.24h2.10" stroke="#000" stroke-width="1.0"/><path d="M397.85,501.56h-2.10M676.40,501.56h2.10" stroke="#000" stroke-width="1.0"/><path d="M397.85,494.87h-3.80M676.40,494.87h3.80" stroke="#000" stroke-width="1.1"/><path d="M397.85,488.19h-2.10M676.40,488.19h2.10" stroke="#000" stroke-width="1.0"/><path d="M397.85,481.50h-2.10M676.40,481.50h2.10" stroke="#000" stroke-width="1.0"/><path d="M397.85,474.81h-2.10M676.40,474.81h2.10" stroke="#000" stroke-width="1.0"/><path d="M397.85,468.13h-2.10M676.40,468.13h2.10" stroke="#000" stroke-width="1.0"/><path d="M397.85,461.44h-3.80M676.40,461.44h3.80" stroke="#000" stroke-width="1.1"/><path d="M397.85,454.76h-2.10M676.40,454.76h2.10" stroke="#000" stroke-width="1.0"/><path d="M397.85,448.07h-2.10M676.40,448.07h2.10" stroke="#000" stroke-width="1.0"/><path d="M397.85,441.39h-2.10M676.40,441.39h2.10" stroke="#000" stroke-width="1.0"/><path d="M397.85,434.70h-2.10M676.40,434.70h2.10" stroke="#000" stroke-width="1.0"/><path d="M397.85,428.01h-3.80M676.40,428.01h3.80" stroke="#000" stroke-width="1.1"/><path d="M397.85,421.33h-2.10M676.40,421.33h2.10" stroke="#000" stroke-width="1.0"/><path d="M397.85,414.64h-2.10M676.40,414.64h2.10" stroke="#000" stroke-width="1.0"/><path d="M397.85,407.96h-2.10M676.40,407.96h2.10" stroke="#000" stroke-width="1.0"/><path d="M397.85,401.27h-2.10M676.40,401.27h2.10" stroke="#000" stroke-width="1.0"/><path d="M397.85,394.59h-3.80M676.40,394.59h3.80" stroke="#000" stroke-width="1.1"/><path d="M397.85,387.90h-2.10M676.40,387.90h2.10" stroke="#000" stroke-width="1.0"/><path d="M397.85,381.21h-2.10M676.40,381.21h2.10" stroke="#000" stroke-width="1.0"/><path d="M397.85,374.53h-2.10M676.40,374.53h2.10" stroke="#000" stroke-width="1.0"/><path d="M397.85,367.84h-2.10M676.40,367.84h2.10" stroke="#000" stroke-width="1.0"/><path d="M397.85,361.16h-3.80M676.40,361.16h3.80" stroke="#000" stroke-width="1.1"/><path d="M397.85,354.47h-2.10M676.40,354.47h2.10" stroke="#000" stroke-width="1.0"/><path d="M397.85,347.79h-2.10M676.40,347.79h2.10" stroke="#000" stroke-width="1.0"/><path d="M397.85,341.10h-2.10M676.40,341.10h2.10" stroke="#000" stroke-width="1.0"/><path d="M397.85,334.41h-2.10M676.40,334.41h2.10" stroke="#000" stroke-width="1.0"/><path d="M397.85,327.73h-3.80M676.40,327.73h3.80" stroke="#000" stroke-width="1.1"/><path d="M397.85,321.04h-2.10M676.40,321.04h2.10" stroke="#000" stroke-width="1.0"/><path d="M397.85,314.36h-2.10M676.40,314.36h2.10" stroke="#000" stroke-width="1.0"/><path d="M397.85,307.67h-2.10M676.40,307.67h2.10" stroke="#000" stroke-width="1.0"/><path d="M397.85,300.99h-2.10M676.40,300.99h2.10" stroke="#000" stroke-width="1.0"/><path d="M397.85,294.30h-3.80M676.40,294.30h3.80" stroke="#000" stroke-width="1.1"/>
<path d="M385.00,540.00h7.00" stroke="#333" stroke-width="0.65"/><text x="392.47" y="542.75" font-size="11.40" textLength="19.00" lengthAdjust="spacingAndGlyphs" fill="#111">0.04</text>
<path d="M424.79,540.00h7.00" stroke="#333" stroke-width="0.65"/><text x="432.25" y="542.75" font-size="11.40" textLength="19.46" lengthAdjust="spacingAndGlyphs" fill="#111">0.02</text>
<text x="468.09" y="542.75" font-size="11.40" textLength="19.28" lengthAdjust="spacingAndGlyphs" fill="#111">0.00</text>
<text x="507.88" y="542.75" font-size="11.40" textLength="19.46" lengthAdjust="spacingAndGlyphs" fill="#111">0.02</text>
<text x="547.69" y="542.75" font-size="11.40" textLength="19.00" lengthAdjust="spacingAndGlyphs" fill="#111">0.04</text>
<text x="587.48" y="542.75" font-size="11.40" textLength="19.17" lengthAdjust="spacingAndGlyphs" fill="#111">0.06</text>
<text x="627.27" y="542.75" font-size="11.40" textLength="19.28" lengthAdjust="spacingAndGlyphs" fill="#111">0.08</text>
<text x="667.06" y="542.75" font-size="11.40" textLength="19.28" lengthAdjust="spacingAndGlyphs" fill="#111">0.10</text>
<text x="371.61" y="532.60" font-size="11.40" textLength="19.28" lengthAdjust="spacingAndGlyphs" fill="#111">0.18</text>
<text x="371.61" y="499.17" font-size="11.40" textLength="19.28" lengthAdjust="spacingAndGlyphs" fill="#111">0.19</text>
<text x="371.61" y="465.74" font-size="11.40" textLength="19.28" lengthAdjust="spacingAndGlyphs" fill="#111">0.20</text>
<text x="371.60" y="432.31" font-size="11.40" textLength="19.52" lengthAdjust="spacingAndGlyphs" fill="#111">0.21</text>
<text x="371.61" y="398.89" font-size="11.40" textLength="19.46" lengthAdjust="spacingAndGlyphs" fill="#111">0.22</text>
<text x="371.61" y="365.46" font-size="11.40" textLength="19.28" lengthAdjust="spacingAndGlyphs" fill="#111">0.23</text>
<text x="371.62" y="332.03" font-size="11.40" textLength="19.00" lengthAdjust="spacingAndGlyphs" fill="#111">0.24</text>
<text x="371.61" y="298.60" font-size="11.40" textLength="19.28" lengthAdjust="spacingAndGlyphs" fill="#111">0.25</text>
<g transform="translate(516.42,561.60)"><path d="M5.90,-13.20L6.50,-13.30L12.40,0.00L0.00,0.00Z M5.76,-11.05L1.17,-1.20L10.35,-1.20Z" fill="#111" fill-rule="evenodd"/><text x="15.25" y="0.00" font-size="19.50" font-style="italic" textLength="10.58" lengthAdjust="spacingAndGlyphs" fill="#111">A</text><text x="26.83" y="2.20" font-size="11.90" textLength="15.06" lengthAdjust="spacingAndGlyphs" fill="#111">FB</text></g>
<g transform="translate(365.20,431.10) rotate(-90)"><path d="M0.20,-12.20L10.40,-12.20L10.60,-9.00L10.00,-9.00L9.50,-11.05L0.20,-11.05Z M0.00,0.00L10.70,0.00L10.90,-3.40L10.30,-3.40L9.70,-1.25L0.00,-1.25Z M0.20,-11.15L2.10,-11.15L5.53,-6.10L3.93,-6.10Z M4.13,-6.40L4.73,-5.90L0.60,-1.15L0.00,-1.15Z" fill="#111"/><text x="13.17" y="0.00" font-size="19.30" font-style="italic" textLength="9.66" lengthAdjust="spacingAndGlyphs" fill="#111">A</text><text x="24.23" y="2.50" font-size="11.90" textLength="15.17" lengthAdjust="spacingAndGlyphs" fill="#111">FB</text></g>
</svg></body></html>
